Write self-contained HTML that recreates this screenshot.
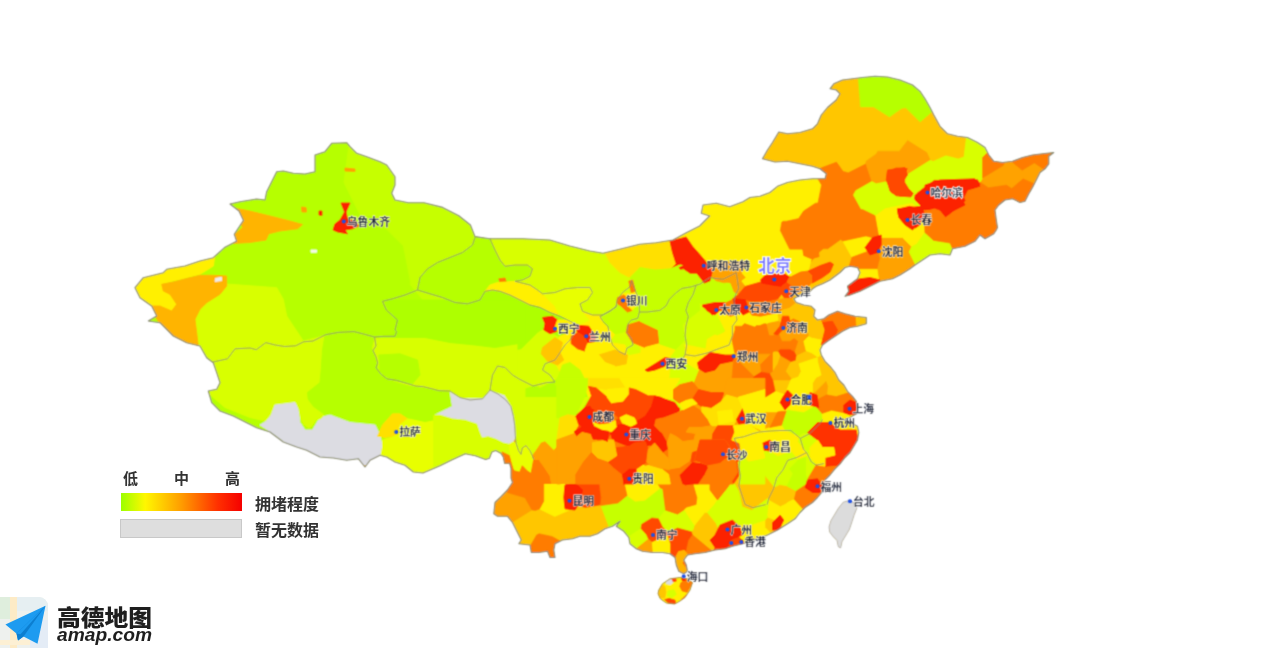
<!DOCTYPE html>
<html lang="zh">
<head>
<meta charset="utf-8">
<title>城市拥堵程度</title>
<style>
html,body{margin:0;padding:0;background:#fff;}
body{width:1269px;height:648px;position:relative;overflow:hidden;font-family:"Liberation Sans","Noto Sans CJK SC",sans-serif;}
svg text{font-family:"Liberation Sans","Noto Sans CJK SC",sans-serif;}
.lg{position:absolute;color:#333;font-weight:bold;font-size:15px;line-height:16px;white-space:nowrap;filter:blur(0.5px);}
.bar{position:absolute;left:121px;width:121px;}
</style>
</head>
<body>
<svg width="1269" height="648" viewBox="0 0 1269 648" style="position:absolute;left:0;top:0">
<defs><clipPath id="cn"><polygon points="230.0,204.0 240.0,201.7 256.7,199.0 265.0,200.0 266.7,191.7 271.7,181.7 276.7,171.7 283.3,171.0 293.3,173.3 305.0,174.0 315.0,171.7 315.0,155.0 325.0,151.7 331.7,143.3 346.7,142.7 350.0,146.7 356.7,153.3 366.7,156.7 380.0,161.7 386.7,165.0 395.0,176.7 395.0,185.0 391.7,193.3 395.0,200.0 408.3,202.7 424.0,202.8 442.6,207.4 458.8,215.7 470.4,225.0 475.0,236.6 489.7,238.7 523.0,238.7 549.7,240.0 569.7,246.0 589.7,251.0 603.0,253.3 619.7,249.3 639.7,244.3 656.3,242.7 673.0,240.0 686.3,232.7 699.7,226.0 709.7,216.0 701.3,213.3 703.0,205.0 716.3,203.3 729.7,206.7 743.0,201.7 750.0,197.5 760.0,196.3 770.0,192.5 777.5,186.3 787.5,182.5 800.0,180.0 812.5,178.8 825.0,178.8 826.3,173.8 820.0,168.8 812.5,166.3 800.0,163.8 787.5,161.3 775.0,162.0 762.5,158.8 767.5,150.0 772.5,142.5 778.8,132.0 787.5,133.8 800.0,132.5 812.5,128.8 817.5,123.8 821.3,115.0 827.5,107.5 836.3,100.0 840.0,93.8 836.3,90.0 830.0,88.8 833.8,83.8 842.5,80.0 852.5,78.8 862.5,77.5 875.0,76.3 887.5,77.0 900.0,80.0 912.5,85.0 920.0,91.3 925.0,98.8 930.0,107.5 933.8,115.0 940.0,126.3 947.5,133.8 957.5,136.3 967.5,137.5 977.5,142.5 985.0,147.5 988.8,155.0 993.8,161.3 1002.5,162.5 1012.5,161.3 1022.5,157.5 1032.5,155.0 1042.5,153.8 1053.8,152.5 1048.8,156.3 1048.8,163.8 1045.0,168.8 1040.0,172.5 1036.3,180.0 1032.5,187.5 1028.8,193.8 1025.0,201.3 1020.0,202.5 1012.5,198.8 1005.0,200.0 998.8,205.0 995.0,210.0 996.3,220.0 997.5,227.5 996.3,230.0 993.8,233.8 985.0,238.8 980.0,235.0 975.0,241.3 965.0,246.3 952.5,248.8 950.0,255.0 940.0,253.8 930.0,255.0 922.5,260.0 915.0,265.0 910.0,268.8 900.0,275.0 892.5,278.8 880.0,281.3 875.0,283.8 867.5,287.5 860.0,291.3 850.0,295.0 845.0,296.3 848.8,291.3 847.5,286.3 852.5,282.5 857.5,278.8 860.0,272.5 857.5,267.5 850.0,266.3 845.0,267.5 840.0,272.5 835.0,276.3 830.0,280.0 822.5,283.8 816.3,286.3 812.5,288.8 808.8,292.5 800.0,295.0 793.8,298.8 796.3,302.5 803.8,305.0 811.3,306.3 815.0,310.0 813.8,316.3 817.5,320.0 823.8,318.8 828.8,315.0 837.5,311.3 845.0,313.8 855.0,316.3 866.3,317.5 866.3,323.8 857.5,326.3 850.0,327.5 842.5,331.3 835.0,336.3 827.5,341.3 822.5,345.0 820.0,350.0 821.3,355.0 825.0,361.3 830.0,366.3 835.0,372.5 838.8,380.0 843.8,385.0 847.5,391.3 852.5,396.3 856.3,401.3 857.5,407.5 856.3,413.8 850.0,417.5 843.8,420.0 850.0,422.5 857.5,426.3 858.8,432.5 857.5,440.0 853.8,446.3 850.0,452.5 845.0,457.5 840.0,463.8 835.0,468.8 830.0,475.0 825.0,480.0 823.8,486.3 822.5,491.3 817.5,497.5 812.5,502.5 805.0,507.5 800.0,512.5 795.0,518.8 787.5,523.8 777.5,530.0 767.5,535.0 755.0,540.0 742.5,543.8 732.5,546.3 725.0,548.8 715.0,550.0 705.0,552.5 695.0,553.8 687.5,555.0 683.8,560.0 686.3,565.0 687.5,571.3 683.8,573.8 678.8,571.3 676.3,565.0 675.0,557.5 670.0,553.8 662.5,552.5 652.5,552.5 642.5,551.3 636.3,548.8 630.0,543.8 628.8,537.5 623.8,531.3 616.3,526.3 620.0,521.3 612.5,526.3 605.0,528.8 597.5,533.8 590.0,536.3 580.0,536.3 572.5,538.8 562.5,540.0 555.0,543.8 553.8,550.0 555.0,557.5 550.0,557.5 547.5,551.3 538.8,552.5 531.3,552.5 530.0,545.0 518.8,543.8 521.3,540.0 517.5,532.5 512.5,522.5 507.5,516.3 497.5,516.3 493.8,513.8 495.0,502.5 501.3,496.3 507.5,490.0 512.5,482.5 511.0,478.0 511.0,468.4 509.6,463.3 504.6,463.3 503.3,457.0 500.8,453.2 495.7,450.6 491.9,451.9 489.4,458.2 485.6,459.5 475.4,455.7 465.3,453.8 452.7,459.5 440.0,465.8 423.0,473.0 413.3,472.0 405.0,465.3 395.0,462.0 386.7,457.0 380.0,455.3 370.0,460.3 365.0,467.0 358.3,458.7 346.7,460.3 333.3,458.0 320.0,457.0 306.7,450.3 296.7,447.0 283.3,442.0 270.0,432.0 256.7,427.7 246.7,422.7 233.3,416.0 220.0,411.0 211.7,402.7 208.3,391.0 216.7,389.3 220.0,382.7 216.7,372.7 213.3,362.7 206.7,357.7 200.0,346.0 186.7,342.7 173.3,336.0 160.0,322.7 148.3,321.0 156.7,316.0 151.7,306.0 140.0,297.7 135.0,287.7 143.3,277.7 163.3,272.7 166.7,269.3 185.0,266.0 200.0,261.0 213.3,257.7 225.0,247.2 236.6,241.2 234.3,234.3 243.5,220.4 239.0,211.0"/><polygon points="658.8,590.0 662.5,583.8 670.0,578.8 680.0,577.5 687.5,578.8 692.5,582.5 690.0,590.0 685.0,597.5 680.0,601.0 674.7,604.0 666.3,603.0 660.3,598.7 658.0,593.7"/><polygon points="843.2,502.2 849.4,500.4 854.3,502.8 856.8,508.4 854.3,514.6 851.9,522.0 849.4,529.4 845.7,535.6 842.0,541.7 840.7,547.9 838.3,546.7 837.0,540.5 833.3,536.8 829.6,531.9 829.0,526.9 830.9,520.7 834.6,514.6 838.3,508.4"/></clipPath>
<linearGradient id="lg" x1="0" x2="1" y1="0" y2="0"><stop offset="0" stop-color="#9cff00"/><stop offset="0.2" stop-color="#fff700"/><stop offset="0.5" stop-color="#ff9c00"/><stop offset="0.8" stop-color="#ff3000"/><stop offset="1" stop-color="#f50000"/></linearGradient>
<filter id="bl" x="-2%" y="-2%" width="104%" height="104%"><feGaussianBlur stdDeviation="0.85"/></filter><filter id="bt" x="-2%" y="-2%" width="104%" height="104%"><feConvolveMatrix order="3" kernelMatrix="1 3 1 3 9 3 1 3 1" divisor="25" edgeMode="duplicate" preserveAlpha="false"/></filter></defs>
<g filter="url(#bt)">
<g clip-path="url(#cn)">
<rect x="100" y="50" width="1000" height="580" fill="#c8ff00"/>
<path d="M331.7 143.3 L325.0 151.7 L315.0 155.0 L315.0 171.7 L305.0 174.0 L293.3 173.3 L287.6 172.0 L283.3 171.0 L276.7 171.7 L271.7 181.7 L266.7 191.7 L265.0 200.0 L256.7 199.0 L240.0 201.7 L230.0 204.0 L239.0 211.0 L243.5 220.4 L242.4 222.0 L234.3 234.3 L236.6 241.2 L225.0 247.2 L213.3 257.7 L200.0 261.0 L185.0 266.0 L166.7 269.3 L163.3 272.7 L143.3 277.7 L135.0 287.7 L140.0 297.7 L151.7 306.0 L156.7 316.0 L148.3 321.0 L160.0 322.7 L173.3 336.0 L186.7 342.7 L200.0 346.0 L206.7 357.7 L213.3 362.7 L216.7 372.7 L220.0 382.7 L216.7 389.3 L208.3 391.0 L211.7 402.7 L220.0 411.0 L233.3 416.0 L245.5 422.1 L246.7 422.7 L256.7 427.7 L270.0 432.0 L283.3 442.0 L296.7 447.0 L306.7 450.3 L320.0 457.0 L333.3 458.0 L346.7 460.3 L358.3 458.7 L359.0 459.6 L407.2 424.9 L436.4 357.5 L440.4 332.5 L441.7 322.5 L410.2 284.7 L410.2 280.6 L403.2 245.8 L373.1 215.7 L360.4 215.7 L343.8 182.5 L348.8 145.2 L346.7 142.7ZM900.0 80.0 L895.8 79.0 L890.5 77.7 L887.5 77.0 L875.0 76.3 L862.5 77.5 L857.7 78.1 L860.0 107.5 L873.6 107.5 L889.5 117.5 L901.7 108.9 L905.7 108.2 L920.1 122.6 L932.3 112.1 L930.0 107.5 L925.0 98.8 L921.9 94.1 L920.0 91.3 L912.5 85.0ZM586.2 391.2 L561.8 376.6 L540.0 387.5 L535.0 385.0 L412.4 425.9 L450.1 435.1 L540.0 442.4 L549.0 445.1 L568.0 444.6 L592.9 434.4 L599.3 430.3Z" fill="#b6ff00" stroke="#b6ff00" stroke-width="0.6" stroke-linejoin="round"/>
<path d="M762.5 158.8 L775.0 162.0 L787.5 161.3 L792.0 162.2 L800.0 163.8 L806.5 165.1 L812.5 166.3 L819.3 168.6 L836.5 162.1 L843.2 171.4 L848.3 172.7 L865.5 164.1 L866.3 160.9 L876.0 154.2 L877.8 151.2 L899.3 151.2 L907.6 140.5 L926.8 152.6 L930.3 160.3 L933.1 161.5 L945.9 155.8 L958.2 158.9 L964.0 157.0 L966.4 137.4 L957.5 136.3 L949.5 134.3 L947.5 133.8 L946.5 132.8 L940.0 126.3 L933.8 115.0 L932.3 112.1 L920.1 122.6 L905.7 108.2 L901.7 108.9 L889.5 117.5 L873.6 107.5 L860.0 107.5 L857.7 78.1 L852.5 78.8 L842.5 80.0 L833.8 83.8 L831.0 87.5 L830.0 88.8 L832.2 89.2 L836.3 90.0 L840.0 93.8 L838.1 97.0 L836.3 100.0 L827.5 107.5 L822.9 113.0 L821.3 115.0 L820.7 116.3 L817.5 123.8 L812.5 128.8 L801.8 132.0 L800.0 132.5 L788.4 133.7 L787.5 133.8 L778.8 132.0 L772.5 142.5 L767.5 150.0ZM773.8 351.2 L772.5 352.9 L772.5 371.4 L772.9 371.2 L777.9 363.8 L780.6 355.6 L778.4 351.2ZM772.8 380.0 L775.2 391.2 L784.8 394.8 L790.8 380.0ZM728.5 461.1 L729.2 475.3 L738.8 491.2 L742.2 506.8 L751.9 510.6 L753.8 508.8 L767.5 498.5 L768.8 500.3 L780.4 506.7 L786.2 503.8 L787.6 502.4 L794.2 499.3 L796.3 491.0 L786.5 485.7 L779.6 484.6 L775.8 486.6 L774.3 487.0 L764.7 474.9 L747.5 470.6ZM590.0 536.3 L590.0 536.3 L597.5 533.8 L605.0 528.8 L609.2 527.4 L601.0 505.6 L600.0 504.9 L585.2 507.6 L573.6 503.7 L569.3 510.1 L554.8 516.5 L539.6 508.9 L535.3 510.5 L531.9 509.9 L512.6 522.0 L512.4 522.3 L512.5 522.5 L514.2 525.9 L517.5 532.5 L521.3 540.0 L518.8 543.8 L530.0 545.0 L530.2 545.9 L536.6 534.9 L539.2 533.7 L551.9 536.4 L552.0 536.4 L560.3 541.1 L562.5 540.0 L572.5 538.8 L573.4 538.5 L580.0 536.3ZM693.4 528.8 L691.5 531.8 L692.2 534.6 L711.7 550.8 L713.8 550.3 L721.2 532.0 L718.6 528.8 L716.0 523.0 L707.4 512.6 L704.8 512.5 L694.2 525.7ZM779.2 521.5 L767.7 517.3 L765.0 520.0 L765.0 527.5 L770.8 533.3 L777.5 530.0 L782.5 526.9 L782.2 526.2ZM835.0 276.3 L837.9 274.1 L840.0 272.5 L845.0 267.5 L849.0 266.5 L851.9 257.2 L842.8 241.1 L840.7 239.5 L827.8 248.8 L823.2 248.8 L818.1 253.1 L796.7 278.7 L790.3 276.4 L769.2 280.4 L777.2 312.5 L778.2 320.6 L782.3 325.4 L793.3 318.8 L799.6 321.6 L798.2 330.2 L808.1 333.5 L808.5 336.5 L811.9 338.1 L827.6 341.3 L833.8 337.1 L830.2 330.2 L821.5 321.5 L821.7 319.2 L817.5 320.0 L813.8 316.3 L815.0 310.0 L811.3 306.3 L807.4 305.6 L803.8 305.0 L796.3 302.5 L794.9 300.4 L793.8 298.8 L795.1 298.0 L800.0 295.0 L808.8 292.5 L810.8 290.5 L812.5 288.8 L815.5 286.8 L816.3 286.3 L822.5 283.8 L830.0 280.0ZM796.2 355.6 L795.3 360.3 L791.0 361.6 L789.4 363.8 L785.6 371.2 L791.5 379.1 L792.3 379.0 L798.3 377.1 L801.2 371.2 L798.8 363.8 L817.4 357.5 L817.4 357.6 L817.8 362.2 L821.2 375.0 L815.9 377.7 L812.5 383.3 L812.5 395.0 L826.0 381.5 L827.7 386.2 L826.7 394.8 L836.2 396.5 L848.8 392.6 L847.5 391.3 L844.5 386.2 L843.8 385.0 L838.8 380.0 L835.2 372.9 L835.0 372.5 L830.0 366.3 L825.0 361.3 L821.3 355.0 L821.3 354.9 L817.6 357.0 L811.9 353.0 L806.1 350.7ZM857.5 326.3 L866.3 323.8 L866.3 317.5 L855.3 316.3 L856.0 326.5Z" fill="#ffc600" stroke="#ffc600" stroke-width="0.6" stroke-linejoin="round"/>
<path d="M410.2 280.6 L410.2 284.7 L441.7 322.5 L462.5 303.7 L515.4 238.7 L489.7 238.7 L475.0 236.6 L470.4 225.0 L458.8 215.7 L445.9 209.1 L442.6 207.4 L424.0 202.8 L417.6 202.8 L408.3 202.7 L396.3 200.3 L395.0 200.0 L391.7 193.3 L395.0 185.0 L395.0 176.7 L386.7 165.0 L380.0 161.7 L366.7 156.7 L356.7 153.3 L350.0 146.7 L348.8 145.2 L343.8 182.5 L360.4 215.7 L373.1 215.7 L403.2 245.8ZM702.7 267.7 L681.4 268.9 L637.2 266.7 L641.7 287.1 L713.2 307.5 L715.3 309.9 L718.1 309.4 L723.8 303.8 L758.1 286.6 L762.2 279.7 L760.7 278.2 L723.8 282.8 L715.8 280.8ZM644.8 500.2 L635.2 501.3 L627.1 495.6 L618.0 503.1 L601.0 505.6 L609.2 527.4 L612.5 526.3 L620.0 521.3 L617.0 525.3 L616.3 526.3 L623.8 531.3 L628.3 536.9 L641.0 528.5 L641.7 524.2 L651.9 517.9 L658.4 518.7 L665.5 510.2 L662.8 488.9 L660.3 487.9ZM822.0 413.5 L815.0 405.5 L803.8 412.0 L787.5 409.6 L786.2 411.2 L781.6 425.2 L784.8 430.5 L786.7 430.8 L796.9 435.9 L799.3 436.3 L802.2 434.0 L803.8 433.6 L822.1 434.6 L824.1 434.9ZM786.5 485.7 L796.3 491.0 L808.1 483.1 L807.6 481.3 L808.0 478.4 L806.2 475.0 L806.2 456.2 L797.2 459.3 L796.8 460.8 L788.8 468.8 L792.5 473.8Z" fill="#c6ff00" stroke="#c6ff00" stroke-width="0.6" stroke-linejoin="round"/>
<path d="M757.1 271.6 L751.1 264.7 L746.2 261.2 L711.6 261.2 L702.7 267.7 L715.8 280.8 L723.8 282.8 L760.7 278.2ZM778.2 320.6 L769.0 322.4 L766.1 323.8 L769.1 335.6 L772.5 335.6 L778.6 333.4 L781.8 341.2 L790.0 341.2 L794.2 338.5 L797.9 341.2 L794.4 351.9 L796.2 355.6 L806.1 350.7 L803.8 341.2 L808.5 336.5 L808.1 333.5 L798.2 330.2 L793.1 333.1 L782.3 325.9 L782.3 325.4ZM735.7 352.4 L734.7 352.8 L733.5 355.5 L709.9 363.0 L709.3 362.8 L698.2 370.7 L692.9 384.2 L688.4 417.5 L704.6 427.0 L718.8 438.1 L721.4 436.6 L739.4 438.6 L769.7 427.6 L777.5 411.9 L738.5 411.9 L740.6 406.9 L741.2 399.9 L731.7 381.0 L733.8 356.3 L754.1 376.6 L761.3 372.0 L760.4 364.6 L771.2 353.8 L757.2 353.8 L756.0 355.8ZM772.9 371.2 L772.5 371.4 L769.6 373.5 L772.8 380.0 L790.8 380.0 L791.5 379.1 L785.6 371.2 L789.4 363.8 L791.0 361.6 L780.6 355.6 L777.9 363.8ZM370.0 460.3 L380.0 455.3 L386.7 457.0 L395.0 462.0 L405.0 465.3 L413.3 472.0 L423.0 473.0 L440.0 465.8 L452.7 459.5 L465.3 453.8 L469.6 454.6 L450.1 435.1 L412.4 425.9 L407.2 424.9 L359.0 459.6 L365.0 467.0ZM497.5 516.3 L507.5 516.3 L512.4 522.3 L512.6 522.0 L531.9 509.9 L524.9 497.7 L507.8 492.8 L506.3 491.3 L501.3 496.3 L495.0 502.5 L493.8 513.8ZM642.5 551.3 L652.5 552.5 L653.1 552.5 L652.2 541.7 L648.2 538.6 L635.9 548.4 L636.3 548.8ZM877.8 151.2 L876.0 154.2 L866.3 160.9 L865.5 164.1 L871.2 181.2 L876.2 183.8 L895.3 179.9 L902.7 181.1 L904.8 176.2 L930.3 160.3 L926.8 152.6 L907.6 140.5 L899.3 151.2ZM1034.3 162.9 L1022.1 170.3 L1011.5 161.4 L1004.7 162.2 L1003.2 165.6 L982.5 178.0 L980.2 182.2 L988.5 187.7 L1006.5 185.1 L1011.7 188.4 L1023.1 178.8 L1034.4 183.7 L1036.3 180.0 L1040.0 172.5 L1044.1 169.4ZM879.2 238.8 L878.9 239.4 L878.9 240.7 L876.7 248.0 L879.7 258.2 L877.0 268.8 L879.0 281.8 L880.0 281.3 L892.5 278.8 L900.0 275.0 L901.4 274.1 L910.0 268.8 L915.0 265.0 L915.5 264.7 L909.1 251.9 L911.7 246.7 L902.5 237.5 L882.5 237.5ZM812.5 395.0 L812.3 396.5 L815.0 400.6 L826.7 394.8 L827.7 386.2 L826.0 381.5Z" fill="#ffa200" stroke="#ffa200" stroke-width="0.6" stroke-linejoin="round"/>
<path d="M709.7 216.0 L702.5 223.2 L699.7 226.0 L686.3 232.7 L673.0 240.0 L656.3 242.7 L639.7 244.3 L625.0 248.0 L619.7 249.3 L603.0 253.3 L589.7 251.0 L582.6 249.2 L567.0 332.1 L558.8 336.2 L551.6 357.6 L561.8 376.6 L586.2 391.2 L599.3 430.3 L610.1 431.0 L617.2 426.8 L654.8 414.2 L667.6 413.4 L670.5 367.3 L657.5 357.5 L657.5 318.5 L642.5 298.2 L641.7 287.1 L637.2 266.7 L681.4 268.9 L702.7 267.7 L711.6 261.2 L746.2 261.2 L751.1 264.7 L757.1 271.6 L760.7 278.2 L762.2 279.7 L758.1 286.6 L756.0 294.2 L751.2 304.9 L746.3 310.2 L730.5 316.5 L718.1 309.4 L715.3 309.9 L714.8 310.9 L724.7 330.6 L724.2 331.7 L717.5 335.0 L714.8 334.1 L706.6 339.1 L705.3 348.1 L683.8 343.8 L684.8 352.0 L682.8 361.4 L698.2 370.7 L709.3 362.8 L709.9 363.0 L733.5 355.5 L734.7 352.8 L734.5 352.4 L731.9 339.4 L735.0 330.0 L735.0 326.2 L741.6 326.2 L744.6 323.6 L754.8 327.0 L756.4 325.6 L759.7 325.6 L763.9 323.8 L766.1 323.8 L769.0 322.4 L778.2 320.6 L777.2 312.5 L769.2 280.4 L790.3 276.4 L791.8 255.7 L790.3 250.6 L780.3 230.6 L781.7 222.2 L783.1 221.2 L786.2 221.2 L798.5 218.5 L803.5 211.0 L815.3 203.2 L817.9 202.9 L821.5 185.0 L817.8 178.8 L812.5 178.8 L800.0 180.0 L796.0 180.8 L787.5 182.5 L784.6 183.6 L777.7 186.2 L777.5 186.3 L770.0 192.5 L760.0 196.3 L758.0 196.5 L752.4 197.2 L750.0 197.5 L743.0 201.7 L737.5 203.8 L729.7 206.7 L716.3 203.3 L703.0 205.0 L701.3 213.3ZM690.8 476.1 L697.0 497.7 L696.1 504.5 L686.6 507.2 L684.2 509.2 L683.8 510.0 L694.2 525.7 L704.8 512.5 L707.4 512.6 L714.6 504.6 L719.2 497.2 L719.3 496.8 L719.9 493.9 L729.2 475.3 L728.5 461.1 L718.7 438.8 L707.8 449.8ZM539.6 508.9 L554.8 516.5 L569.3 510.1 L573.6 503.7 L571.5 497.7 L568.0 444.6 L549.0 445.1 L543.8 466.2 L543.8 501.2ZM624.8 485.7 L627.1 495.6 L635.2 501.3 L644.8 500.2 L660.3 487.9 L647.3 467.0 L623.4 450.5ZM652.2 541.7 L653.1 552.5 L662.5 552.5 L670.0 553.8 L670.6 554.3 L670.6 543.9 L667.8 534.8ZM666.3 603.0 L670.6 603.5 L670.6 578.7 L670.0 578.8 L662.5 583.8 L658.8 590.0 L658.0 593.7 L660.3 598.7ZM766.5 396.5 L740.6 406.9 L738.5 411.9 L777.5 411.9 L781.2 411.2 L786.2 411.2 L787.5 409.6 L803.8 412.0 L815.0 405.5 L815.0 400.6 L812.3 396.5 L812.5 395.0 L812.5 383.3 L815.9 377.7 L821.2 375.0 L817.8 362.2 L817.4 357.6 L817.4 357.5 L798.8 363.8 L801.2 371.2 L798.3 377.1 L792.3 379.0 L791.5 379.1 L790.8 380.0 L784.8 394.8 L775.2 391.2ZM762.8 445.8 L770.0 452.0 L778.0 456.5 L788.1 452.5 L791.8 452.5 L797.2 459.3 L806.2 456.2 L809.0 454.9 L798.4 441.7 L799.3 436.3 L796.9 435.9 L786.7 430.8 L784.8 430.5 L781.6 425.2 L769.7 427.6 L739.4 438.6ZM766.9 515.6 L767.7 517.3 L779.2 521.5 L782.2 526.2 L782.5 526.9 L787.5 523.8 L795.0 518.8 L797.3 515.9 L800.0 512.5 L803.2 509.3 L794.2 499.3 L787.6 502.4 L786.2 503.8 L780.4 506.7 L768.8 500.3ZM730.6 529.5 L743.2 540.9 L744.2 543.3 L755.0 540.0 L760.2 537.9 L767.5 535.0 L770.8 533.3 L765.0 527.5 L765.0 520.0 L753.0 524.0 L752.9 524.4 L734.1 524.4ZM879.2 238.8 L882.5 237.5 L902.5 237.5 L911.7 246.7 L916.7 244.2 L924.9 232.6 L923.9 207.9 L918.1 206.4 L915.0 205.0 L912.1 202.6 L885.2 208.0 L875.0 215.6ZM851.9 257.2 L876.7 248.0 L878.9 240.7 L878.9 239.4 L866.0 236.0 L842.8 241.1ZM875.0 283.8 L879.0 281.8 L877.0 268.8 L858.1 268.8 L860.0 272.5 L857.5 278.8 L852.5 282.5 L847.5 286.3 L848.8 291.3 L847.0 293.7 L848.1 294.5 L848.3 294.6 L849.8 295.1 L850.0 295.0 L860.0 291.3 L867.5 287.5ZM827.5 341.3 L827.6 341.3 L811.9 338.1 L808.5 336.5 L803.8 341.2 L806.1 350.7 L811.9 353.0 L817.6 357.0 L821.3 354.9 L820.0 350.0 L822.5 345.0ZM857.5 426.3 L850.0 422.5 L843.8 420.0 L850.0 417.5 L854.4 414.9 L831.6 410.3 L822.0 413.5 L824.1 434.9 L836.0 447.3 L850.7 451.3 L853.8 446.3 L857.5 440.0 L858.8 432.5Z" fill="#fff000" stroke="#fff000" stroke-width="0.6" stroke-linejoin="round"/>
<path d="M641.7 287.1 L642.5 298.2 L657.5 318.5 L657.5 357.5 L670.5 367.3 L667.6 413.4 L688.4 417.5 L692.9 384.2 L698.2 370.7 L682.8 361.4 L684.8 352.0 L683.8 343.8 L705.3 348.1 L706.6 339.1 L714.8 334.1 L717.5 335.0 L724.2 331.7 L724.7 330.6 L714.8 310.9 L715.3 309.9 L713.2 307.5ZM412.4 425.9 L535.0 385.0 L540.0 387.5 L561.8 376.6 L551.6 357.6 L558.8 336.2 L542.9 328.9 L537.5 332.5 L521.2 348.8 L477.5 357.5 L436.4 357.5 L407.2 424.9ZM677.5 514.2 L665.5 510.2 L658.4 518.7 L662.5 526.9 L668.1 533.0 L677.5 528.0 L691.5 531.8 L693.4 528.8 L694.2 525.7 L683.8 510.0ZM635.9 548.4 L648.2 538.6 L646.6 534.8 L641.0 528.5 L628.3 536.9 L628.8 537.5 L630.0 543.8ZM779.6 484.6 L786.5 485.7 L792.5 473.8 L788.8 468.8 L796.8 460.8 L797.2 459.3 L791.8 452.5 L788.1 452.5 L778.0 456.5 L770.0 452.0 L762.8 445.8 L739.4 438.6 L721.4 436.6 L718.8 438.1 L718.7 438.8 L728.5 461.1 L747.5 470.6 L764.7 474.9 L774.3 487.0 L775.8 486.6ZM719.3 496.8 L719.2 497.2 L714.6 504.6 L707.4 512.6 L716.0 523.0 L718.6 528.8 L721.2 532.0 L730.6 529.5 L734.1 524.4 L752.9 524.4 L753.0 524.0 L765.0 520.0 L767.7 517.3 L766.9 515.6 L768.8 500.3 L767.5 498.5 L753.8 508.8 L751.9 510.6 L742.2 506.8 L738.8 491.2 L729.2 475.3 L719.9 493.9ZM982.5 157.5 L987.5 152.5 L985.0 147.5 L977.5 142.5 L967.5 137.5 L966.4 137.4 L964.0 157.0 L958.2 158.9 L945.9 155.8 L933.1 161.5 L930.3 160.3 L904.8 176.2 L902.7 181.1 L895.3 179.9 L876.2 183.8 L871.2 181.2 L855.4 190.3 L852.8 195.0 L860.7 209.3 L863.1 209.7 L875.0 215.6 L885.2 208.0 L912.1 202.6 L915.0 205.0 L918.1 206.4 L923.9 207.9 L941.3 203.3 L947.6 197.7 L950.6 196.9 L955.0 196.7 L975.1 183.3 L980.2 182.2 L982.5 178.0ZM922.5 260.0 L928.5 256.0 L930.0 255.0 L931.7 254.8 L940.0 253.8 L950.0 255.0 L952.5 248.8 L952.5 248.8 L950.0 243.1 L933.5 240.4 L924.9 232.6 L916.7 244.2 L911.7 246.7 L909.1 251.9 L915.5 264.7ZM822.6 454.0 L836.0 447.3 L824.1 434.9 L822.1 434.6 L803.8 433.6 L802.2 434.0 L799.3 436.3 L798.4 441.7 L809.0 454.9 L806.2 456.2 L806.2 475.0 L808.0 478.4Z" fill="#d8ff00" stroke="#d8ff00" stroke-width="0.6" stroke-linejoin="round"/>
<path d="M758.1 286.6 L723.8 303.8 L718.1 309.4 L730.5 316.5 L746.3 310.2 L751.2 304.9 L756.0 294.2ZM731.9 339.4 L734.5 352.4 L734.7 352.8 L735.7 352.4 L756.0 355.8 L757.2 353.8 L771.2 353.8 L760.4 364.6 L761.3 372.0 L769.6 373.5 L772.5 371.4 L772.5 352.9 L773.8 351.2 L778.4 351.2 L780.1 349.4 L790.0 349.4 L794.4 351.9 L797.9 341.2 L794.2 338.5 L790.0 341.2 L781.8 341.2 L778.6 333.4 L772.5 335.6 L769.1 335.6 L766.1 323.8 L763.9 323.8 L759.7 325.6 L756.4 325.6 L754.8 327.0 L744.6 323.6 L741.6 326.2 L735.0 326.2 L735.0 330.0ZM733.8 356.3 L731.7 381.0 L741.2 399.9 L754.1 376.6ZM688.4 417.5 L667.6 413.4 L654.8 414.2 L617.2 426.8 L610.1 431.0 L599.3 430.3 L592.9 434.4 L600.8 497.7 L600.0 504.9 L601.0 505.6 L618.0 503.1 L627.1 495.6 L624.8 485.7 L623.4 450.5 L647.3 467.0 L660.3 487.9 L662.8 488.9 L665.5 510.2 L677.5 514.2 L683.8 510.0 L684.2 509.2 L686.6 507.2 L696.1 504.5 L697.0 497.7 L690.8 476.1 L707.8 449.8 L718.7 438.8 L718.8 438.1 L704.6 427.0ZM500.8 453.2 L503.3 457.0 L504.6 463.3 L509.6 463.3 L511.0 468.4 L511.0 478.0 L512.5 482.5 L507.5 490.0 L506.3 491.3 L507.8 492.8 L524.9 497.7 L531.9 509.9 L535.3 510.5 L539.6 508.9 L543.8 501.2 L543.8 466.2 L549.0 445.1 L540.0 442.4 L450.1 435.1 L469.6 454.6 L475.4 455.7 L485.6 459.5 L489.4 458.2 L491.9 451.9 L495.7 450.6ZM555.0 557.5 L553.8 550.0 L555.0 543.8 L560.3 541.1 L552.0 536.4 L551.9 536.4 L539.2 533.7 L536.6 534.9 L530.2 545.9 L531.3 552.5 L538.8 552.5 L541.5 552.1 L547.5 551.3 L550.0 557.5ZM711.7 550.8 L692.2 534.6 L688.2 540.4 L683.8 560.0 L687.5 555.0 L695.0 553.8 L705.0 552.5ZM683.8 573.8 L687.5 571.3 L686.3 565.0 L683.8 560.0 L681.1 572.4ZM687.5 578.8 L680.0 577.5 L679.9 577.5 L674.1 603.9 L674.7 604.0 L680.0 601.0 L685.0 597.5 L690.0 590.0 L692.5 582.5ZM825.0 178.8 L817.8 178.8 L821.5 185.0 L817.9 202.9 L815.3 203.2 L803.5 211.0 L798.5 218.5 L786.2 221.2 L783.1 221.2 L781.7 222.2 L780.3 230.6 L790.3 250.6 L791.8 255.7 L790.3 276.4 L796.7 278.7 L818.1 253.1 L823.2 248.8 L827.8 248.8 L840.7 239.5 L842.8 241.1 L866.0 236.0 L878.9 239.4 L879.2 238.8 L875.0 215.6 L863.1 209.7 L860.7 209.3 L852.8 195.0 L855.4 190.3 L871.2 181.2 L865.5 164.1 L848.3 172.7 L843.2 171.4 L836.5 162.1 L819.3 168.6 L820.0 168.8 L826.3 173.8ZM845.0 313.8 L839.4 311.9 L837.5 311.3 L828.8 315.0 L823.8 318.8 L821.7 319.2 L821.5 321.5 L830.2 330.2 L833.8 337.1 L835.0 336.3 L842.5 331.3 L843.7 330.7 L850.0 327.5 L856.0 326.5 L855.3 316.3 L855.0 316.3 L845.8 314.0ZM782.3 325.4 L782.3 325.9 L793.1 333.1 L798.2 330.2 L799.6 321.6 L793.3 318.8ZM822.0 413.5 L831.6 410.3 L854.4 414.9 L856.3 413.8 L857.5 407.5 L856.3 401.3 L852.5 396.3 L848.8 392.6 L836.2 396.5 L826.7 394.8 L815.0 400.6 L815.0 405.5ZM781.6 425.2 L786.2 411.2 L781.2 411.2 L777.5 411.9 L769.7 427.6ZM794.2 499.3 L803.2 509.3 L805.0 507.5 L812.5 502.5 L817.5 497.5 L822.5 491.3 L822.5 491.3 L823.8 486.3 L825.0 480.0 L830.0 475.0 L835.0 468.8 L840.0 463.8 L845.0 457.5 L850.0 452.5 L850.7 451.3 L836.0 447.3 L822.6 454.0 L808.0 478.4 L807.6 481.3 L808.1 483.1 L796.3 491.0ZM833.3 536.8 L837.0 540.5 L838.3 546.7 L840.7 547.9 L842.0 541.7 L845.7 535.6 L849.4 529.4 L851.9 522.0 L854.3 514.6 L856.0 510.5 L856.8 508.4 L854.3 502.8 L849.4 500.4 L843.2 502.2 L842.7 502.9 L838.3 508.4 L834.6 514.6 L830.9 520.7 L829.0 526.9 L829.6 531.9ZM1042.5 153.8 L1033.2 154.9 L1032.5 155.0 L1022.5 157.5 L1012.5 161.3 L1011.5 161.4 L1022.1 170.3 L1034.3 162.9 L1044.1 169.4 L1045.0 168.8 L1048.8 163.8 L1048.8 156.3 L1053.8 152.5ZM987.5 152.5 L982.5 157.5 L982.5 178.0 L1003.2 165.6 L1004.7 162.2 L1002.5 162.5 L993.8 161.3 L988.8 155.0ZM1034.4 183.7 L1023.1 178.8 L1011.7 188.4 L1006.5 185.1 L988.5 187.7 L980.2 182.2 L975.1 183.3 L955.0 196.7 L950.6 196.9 L947.6 197.7 L941.3 203.3 L923.9 207.9 L924.9 232.6 L933.5 240.4 L950.0 243.1 L952.5 248.8 L965.0 246.3 L974.2 241.7 L975.0 241.3 L980.0 235.0 L985.0 238.8 L992.2 234.7 L993.8 233.8 L996.3 230.0 L997.5 227.5 L996.3 220.0 L995.0 210.0 L995.0 210.0 L998.8 205.0 L1005.0 200.0 L1012.5 198.8 L1013.9 199.5 L1020.0 202.5 L1025.0 201.3 L1028.8 193.8 L1032.5 187.5ZM876.7 248.0 L851.9 257.2 L849.0 266.5 L850.0 266.3 L857.5 267.5 L858.1 268.8 L877.0 268.8 L879.7 258.2ZM848.3 294.6 L848.1 294.5 L847.0 293.7 L845.0 296.3 L847.5 295.7 L848.1 295.5 L849.8 295.1Z" fill="#ff7c00" stroke="#ff7c00" stroke-width="0.6" stroke-linejoin="round"/>
<path d="M515.4 238.7 L462.5 303.7 L441.7 322.5 L440.4 332.5 L436.4 357.5 L477.5 357.5 L521.2 348.8 L537.5 332.5 L542.9 328.9 L558.8 336.2 L567.0 332.1 L582.6 249.2 L569.7 246.0 L549.7 240.0 L548.9 240.0 L523.0 238.7Z" fill="#aeff00" stroke="#aeff00" stroke-width="0.6" stroke-linejoin="round"/>
<path d="M795.3 360.3 L796.2 355.6 L794.4 351.9 L790.0 349.4 L780.1 349.4 L778.4 351.2 L780.6 355.6 L791.0 361.6ZM772.8 380.0 L769.6 373.5 L761.3 372.0 L754.1 376.6 L741.2 399.9 L740.6 406.9 L766.5 396.5 L775.2 391.2ZM600.0 504.9 L600.8 497.7 L592.9 434.4 L568.0 444.6 L571.5 497.7 L573.6 503.7 L585.2 507.6ZM658.4 518.7 L651.9 517.9 L641.7 524.2 L641.0 528.5 L646.6 534.8 L648.2 538.6 L652.2 541.7 L667.8 534.8 L670.6 543.9 L670.6 554.3 L675.0 557.5 L676.3 565.0 L678.8 571.3 L681.1 572.4 L683.8 560.0 L683.8 560.0 L683.8 560.0 L688.2 540.4 L692.2 534.6 L691.5 531.8 L677.5 528.0 L668.1 533.0 L662.5 526.9ZM713.8 550.3 L715.0 550.0 L725.0 548.8 L732.5 546.3 L742.5 543.8 L744.2 543.3 L743.2 540.9 L730.6 529.5 L721.2 532.0ZM670.6 603.5 L674.1 603.9 L679.9 577.5 L670.6 578.7Z" fill="#ff4a00" stroke="#ff4a00" stroke-width="0.6" stroke-linejoin="round"/>
<polygon points="226.7,284.0 276.7,287.7 283.3,299.3 286.7,316.0 300.0,336.0 303.3,341.0 323.0,336.0 330.0,338.0 325.0,345.0 283.3,349.0 266.7,346.0 250.0,349.0 233.3,350.0 226.7,361.0 213.3,365.0 205.0,357.0 198.0,345.0 196.0,332.0 195.0,319.0 200.0,309.0 207.0,302.0 220.0,294.0" fill="#d8ff00" stroke="#d8ff00" stroke-width="0.9" stroke-linejoin="round"/>
<polygon points="215.0,255.0 213.3,266.0 200.0,274.3 186.7,277.7 173.3,281.0 161.7,284.3 163.3,291.0 170.0,294.3 176.7,304.3 171.7,311.0 160.0,306.0 150.0,308.0 138.0,298.0 132.0,287.0 142.0,276.0 163.0,271.0 185.0,264.0 200.0,259.0" fill="#fff000" stroke="#fff000" stroke-width="0.9" stroke-linejoin="round"/>
<polygon points="161.7,284.3 173.3,282.0 186.7,278.5 200.0,275.3 213.3,275.3 226.7,276.0 226.7,286.0 220.0,294.3 206.7,302.7 200.0,309.3 195.0,319.3 196.7,332.7 198.3,346.0 186.7,344.0 173.3,338.0 160.0,324.0 155.0,316.0 151.7,306.0 160.0,306.0 171.7,311.0 176.7,304.3 170.0,294.3 163.3,291.0" fill="#ffb400" stroke="#ffb400" stroke-width="0.9" stroke-linejoin="round"/>
<polygon points="215.5,278.3 221.5,277.3 221.5,280.7 215.0,281.5" fill="#ececec" stroke="#ececec" stroke-width="0.9" stroke-linejoin="round"/>
<polygon points="234.0,208.0 247.5,210.5 270.0,216.0 290.0,221.0 302.5,224.5 297.5,228.8 280.0,231.0 268.8,233.8 266.0,240.0 250.0,242.5 233.0,243.5 233.0,236.0 242.5,227.5 238.8,217.5" fill="#ffb400" stroke="#ffb400" stroke-width="0.9" stroke-linejoin="round"/>
<polygon points="341.0,203.0 350.0,203.0 346.0,212.0 347.5,218.8 355.0,221.0 358.8,226.0 352.5,228.8 345.0,230.0 347.5,233.8 337.5,232.0 333.0,230.0 335.0,223.8 340.0,220.0 344.5,212.0" fill="#fc2205" stroke="#fc2205" stroke-width="0.9" stroke-linejoin="round"/>
<polygon points="301.5,207.0 306.0,207.5 306.5,212.0 302.0,212.0" fill="#ffa200" stroke="#ffa200" stroke-width="0.9" stroke-linejoin="round"/>
<polygon points="319.0,211.0 322.0,211.0 322.0,215.5 319.0,215.0" fill="#fc2205" stroke="#fc2205" stroke-width="0.9" stroke-linejoin="round"/>
<polygon points="345.0,168.0 355.0,169.0 355.0,171.5 345.0,171.0" fill="#ffa200" stroke="#ffa200" stroke-width="0.9" stroke-linejoin="round"/>
<polygon points="311.0,250.0 316.5,250.0 316.5,252.3 311.0,252.3" fill="#f4f8ec" stroke="#f4f8ec" stroke-width="0.9" stroke-linejoin="round"/>
<polygon points="200.0,345.0 205.0,357.5 215.0,361.2 227.5,358.8 235.0,348.8 250.0,347.5 267.5,342.5 277.5,346.2 300.0,343.8 317.5,341.2 325.0,335.0 322.5,350.0 321.2,370.0 320.0,382.5 307.5,392.5 308.8,405.0 300.0,402.5 297.5,410.0 295.0,402.5 275.0,405.0 271.2,415.0 266.2,421.2 250.0,417.5 225.0,407.5 207.5,392.5 210.0,382.5 220.0,382.5 215.0,370.0 202.5,360.0 197.5,347.5" fill="#d8ff00" stroke="#d8ff00" stroke-width="0.9" stroke-linejoin="round"/>
<polygon points="325.0,335.0 340.0,332.5 355.0,331.2 372.5,335.0 372.5,347.5 377.5,362.5 380.0,372.5 390.0,380.0 407.5,385.0 425.0,387.5 437.5,390.0 450.0,391.2 452.5,407.5 445.0,410.0 435.0,415.0 437.5,420.0 425.0,422.5 407.5,417.5 400.0,412.5 392.5,413.8 385.0,422.5 375.0,425.0 350.0,422.5 330.0,415.0 322.5,413.8 308.8,405.0 307.5,392.5 320.0,382.5 321.2,370.0 322.5,350.0" fill="#b6ff00" stroke="#b6ff00" stroke-width="0.9" stroke-linejoin="round"/>
<polygon points="275.0,405.0 295.0,402.5 298.8,410.0 300.0,422.5 305.0,430.0 312.5,430.0 320.0,417.5 330.0,415.0 350.0,422.5 375.0,425.0 380.0,435.0 382.5,447.5 380.0,465.0 350.0,465.0 320.0,460.0 295.0,450.0 275.0,435.0 260.0,425.0 266.2,421.2 271.2,415.0" fill="#dcdce2" stroke="#dcdce2" stroke-width="0.9" stroke-linejoin="round"/>
<polygon points="377.5,436.2 382.5,425.0 392.5,413.8 400.0,413.8 407.5,418.8 400.0,425.0 397.5,435.0 385.0,437.5" fill="#ffe000" stroke="#ffe000" stroke-width="0.9" stroke-linejoin="round"/>
<polygon points="382.5,440.0 397.5,435.0 400.0,425.0 407.5,418.8 425.0,422.5 437.5,420.0 450.0,420.0 475.0,422.5 480.0,435.0 490.0,440.0 507.5,445.0 507.5,475.0 380.0,475.0 380.0,460.0 382.5,447.5" fill="#e8ff00" stroke="#e8ff00" stroke-width="0.9" stroke-linejoin="round"/>
<polygon points="435.0,415.0 445.0,410.0 452.5,407.5 450.0,391.2 460.0,397.5 470.0,400.0 482.5,398.8 490.0,390.0 505.0,395.0 510.0,405.0 513.8,420.0 515.0,435.0 510.0,445.0 500.0,440.0 487.5,437.5 480.0,435.0 475.0,422.5 450.0,420.0 437.5,420.0" fill="#dcdce2" stroke="#dcdce2" stroke-width="0.9" stroke-linejoin="round"/>
<polygon points="502.5,452.5 510.0,453.8 511.2,465.0 503.8,465.0" fill="#ff7c00" stroke="#ff7c00" stroke-width="0.9" stroke-linejoin="round"/>
<polygon points="375.0,337.5 400.0,337.5 425.0,337.5 450.0,342.5 475.0,345.0 495.0,347.5 517.0,343.8 517.0,380.0 512.5,375.0 505.0,367.5 497.5,366.2 492.5,375.0 490.0,390.0 482.5,398.8 470.0,400.0 460.0,397.5 450.0,391.2 437.5,390.0 425.0,387.5 407.5,385.0 390.0,380.0 380.0,372.5 377.5,362.5 372.5,347.5" fill="#d8ff00" stroke="#d8ff00" stroke-width="0.9" stroke-linejoin="round"/>
<polygon points="378.8,355.0 400.0,353.8 417.5,360.0 420.0,375.0 412.5,383.8 390.0,380.0 380.0,372.5" fill="#b6ff00" stroke="#b6ff00" stroke-width="0.9" stroke-linejoin="round"/>
<polygon points="490.0,367.5 497.5,366.2 505.0,367.5 517.0,380.0 525.0,382.5 525.0,405.0 510.0,405.0 505.0,395.0 490.0,390.0 492.5,375.0" fill="#d8ff00" stroke="#d8ff00" stroke-width="0.9" stroke-linejoin="round"/>
<polygon points="385.0,300.0 387.5,307.5 392.5,315.0 397.5,325.0 392.5,335.0 375.0,337.5 400.0,337.5 425.0,337.5 450.0,342.5 475.0,345.0 495.0,347.5 517.0,343.8 525.0,342.5 525.0,300.0" fill="#aeff00" stroke="#aeff00" stroke-width="0.9" stroke-linejoin="round"/>
<polygon points="417.5,290.0 420.0,277.5 427.5,268.8 437.5,262.5 450.0,257.5 462.5,252.5 472.5,245.0 475.0,236.2 490.0,237.5 495.0,250.0 500.0,260.0 505.0,266.2 515.0,265.0 527.5,265.0 532.5,268.8 530.0,276.2 522.5,280.0 515.0,281.2 506.2,282.0 497.5,282.5 490.0,285.0 485.0,291.2 480.0,300.0 467.5,303.8 455.0,302.5 442.5,297.5 430.0,293.8" fill="#b6ff00" stroke="#b6ff00" stroke-width="0.9" stroke-linejoin="round"/>
<polygon points="498.8,278.8 505.0,278.0 506.2,281.5 500.0,282.5" fill="#ff7c00" stroke="#ff7c00" stroke-width="0.9" stroke-linejoin="round"/>
<polygon points="490.0,285.0 497.5,282.5 506.2,282.0 515.0,281.2 520.0,282.5 530.0,285.0 537.5,290.0 542.5,293.8 555.0,306.2 560.0,316.2 550.0,312.5 540.0,307.5 530.0,305.0 520.0,300.0 510.0,295.0 500.0,291.2 492.5,290.0 485.0,291.2" fill="#fff000" stroke="#fff000" stroke-width="0.9" stroke-linejoin="round"/>
<polygon points="542.5,293.8 555.0,292.5 565.0,288.8 577.5,287.5 590.0,287.5 592.5,292.5 587.5,300.0 580.0,303.8 582.5,311.2 592.5,315.0 590.0,320.0 577.5,325.0 567.5,320.0 560.0,316.2 555.0,306.2" fill="#e8ff00" stroke="#e8ff00" stroke-width="0.9" stroke-linejoin="round"/>
<polygon points="490.0,237.5 520.0,238.8 550.0,240.0 575.0,246.2 602.5,253.0 605.0,252.5 610.0,262.5 620.0,272.5 630.0,277.5 635.0,287.5 631.2,292.5 622.5,292.5 617.5,297.5 617.0,302.5 617.5,305.0 610.0,311.2 602.5,315.0 592.5,315.0 582.5,311.2 580.0,303.8 587.5,300.0 592.5,292.5 590.0,287.5 577.5,287.5 565.0,288.8 555.0,292.5 542.5,293.8 537.5,290.0 530.0,285.0 520.0,282.5 515.0,281.2 522.5,280.0 530.0,276.2 532.5,268.8 527.5,265.0 515.0,265.0 505.0,266.2 500.0,260.0 495.0,250.0" fill="#d8ff00" stroke="#d8ff00" stroke-width="0.9" stroke-linejoin="round"/>
<polygon points="602.5,253.0 630.0,247.5 655.0,243.0 670.0,241.2 672.5,252.5 676.2,263.8 670.0,268.8 655.0,270.0 640.0,267.5 630.0,277.5 620.0,272.5 610.0,262.5 605.0,252.5" fill="#ffe000" stroke="#ffe000" stroke-width="0.9" stroke-linejoin="round"/>
<polygon points="670.0,241.2 686.2,237.0 692.5,246.2 702.5,257.5 712.5,270.0 710.0,276.2 702.5,277.5 697.0,271.2 687.5,266.2 680.0,265.0 671.2,268.8 676.2,263.8 672.5,252.5" fill="#fc2205" stroke="#fc2205" stroke-width="0.9" stroke-linejoin="round"/>
<polygon points="630.0,277.5 640.0,267.5 655.0,270.0 670.0,268.8 680.0,265.0 687.5,266.2 697.0,271.2 702.5,277.5 702.5,282.5 697.0,290.0 680.0,295.0 667.5,305.0 655.0,312.5 640.0,312.5 637.5,305.0 637.5,295.0 635.0,287.5" fill="#c6ff00" stroke="#c6ff00" stroke-width="0.9" stroke-linejoin="round"/>
<polygon points="617.5,297.5 623.8,295.0 630.0,300.0 627.5,306.2 632.5,311.2 627.5,313.0 620.0,306.2 617.0,302.5" fill="#ff7c00" stroke="#ff7c00" stroke-width="0.9" stroke-linejoin="round"/>
<polygon points="628.8,281.2 632.5,280.0 635.5,291.2 631.2,292.5" fill="#ff7c00" stroke="#ff7c00" stroke-width="0.9" stroke-linejoin="round"/>
<polygon points="600.0,315.0 610.0,311.2 617.5,305.0 620.0,306.2 627.5,313.0 632.5,311.2 637.5,305.0 640.0,312.5 640.0,321.2 627.5,325.0 625.0,332.5 615.0,335.0 610.0,330.0 602.5,322.5" fill="#c6ff00" stroke="#c6ff00" stroke-width="0.9" stroke-linejoin="round"/>
<polygon points="582.5,311.2 592.5,315.0 600.0,315.0 602.5,322.5 610.0,330.0 615.0,335.0 610.0,342.5 595.0,342.5 590.0,330.0 590.0,320.0" fill="#fff000" stroke="#fff000" stroke-width="0.9" stroke-linejoin="round"/>
<polygon points="615.0,335.0 625.0,332.5 626.2,332.5 632.5,342.5 640.0,347.5 640.0,352.5 627.5,355.0 625.0,345.0 610.0,342.5" fill="#d8ff00" stroke="#d8ff00" stroke-width="0.9" stroke-linejoin="round"/>
<polygon points="627.5,325.0 640.0,321.2 657.5,330.0 658.8,343.8 645.0,347.5 632.5,342.5 626.2,332.5" fill="#ff7c00" stroke="#ff7c00" stroke-width="0.9" stroke-linejoin="round"/>
<polygon points="640.0,312.5 655.0,312.5 667.5,305.0 680.0,295.0 697.0,290.0 700.0,310.0 687.5,320.0 682.5,325.0 685.0,340.0 675.0,350.0 660.0,345.0 658.8,330.0 640.0,321.2" fill="#c6ff00" stroke="#c6ff00" stroke-width="0.9" stroke-linejoin="round"/>
<polygon points="530.0,305.0 540.0,307.5 550.0,312.5 560.0,316.2 567.5,320.0 577.5,325.0 557.5,322.5 552.5,316.2 542.5,317.5 535.0,315.0" fill="#aeff00" stroke="#aeff00" stroke-width="0.9" stroke-linejoin="round"/>
<polygon points="542.5,317.5 552.5,316.2 557.5,320.0 555.0,327.5 557.5,331.2 550.0,333.8 543.8,330.0 545.0,323.8" fill="#fc2205" stroke="#fc2205" stroke-width="0.9" stroke-linejoin="round"/>
<polygon points="557.5,320.0 567.5,320.0 577.5,325.0 577.5,332.5 571.2,336.2 565.0,332.5 557.5,331.2 555.0,327.5" fill="#fff000" stroke="#fff000" stroke-width="0.9" stroke-linejoin="round"/>
<polygon points="575.0,325.0 588.8,326.2 596.2,337.5 593.8,342.5 587.5,342.5 583.8,336.2 577.5,332.5" fill="#fc2205" stroke="#fc2205" stroke-width="0.9" stroke-linejoin="round"/>
<polygon points="571.2,336.2 577.5,332.5 583.8,336.2 587.5,343.8 585.0,351.2 577.5,348.8 571.2,343.8" fill="#ff4a00" stroke="#ff4a00" stroke-width="0.9" stroke-linejoin="round"/>
<polygon points="542.5,347.5 555.0,337.5 562.5,342.5 560.0,352.5 563.8,360.0 557.5,365.0 547.5,361.2 541.2,353.8" fill="#ffc600" stroke="#ffc600" stroke-width="0.9" stroke-linejoin="round"/>
<polygon points="595.0,342.5 610.0,342.5 625.0,345.0 627.5,355.0 615.0,350.0 600.0,355.0 592.5,360.0 585.0,351.2 587.5,343.8 593.8,342.5" fill="#fff000" stroke="#fff000" stroke-width="0.9" stroke-linejoin="round"/>
<polygon points="598.8,355.0 615.0,350.0 627.5,355.0 626.2,363.8 615.0,366.2 605.0,362.5" fill="#ffc600" stroke="#ffc600" stroke-width="0.9" stroke-linejoin="round"/>
<polygon points="587.5,352.5 592.5,360.0 598.8,355.0 605.0,362.5 615.0,366.2 617.5,385.0 587.5,385.0 580.0,370.0" fill="#fff000" stroke="#fff000" stroke-width="0.9" stroke-linejoin="round"/>
<polygon points="562.5,365.0 570.0,362.5 580.0,370.0 587.5,385.0 555.0,385.0" fill="#c6ff00" stroke="#c6ff00" stroke-width="0.9" stroke-linejoin="round"/>
<polygon points="645.0,347.5 658.8,343.8 660.0,345.0 675.0,350.0 667.5,360.0 655.0,363.8 645.0,360.0" fill="#fff000" stroke="#fff000" stroke-width="0.9" stroke-linejoin="round"/>
<polygon points="645.0,370.0 655.0,363.8 665.0,357.5 671.2,358.8 665.0,366.2 655.0,370.0 647.5,371.5" fill="#fc2205" stroke="#fc2205" stroke-width="0.9" stroke-linejoin="round"/>
<polygon points="736.2,418.8 742.5,407.5 747.5,415.0 746.2,425.0 740.0,426.2" fill="#fc2205" stroke="#fc2205" stroke-width="0.9" stroke-linejoin="round"/>
<polygon points="782.5,397.5 787.5,390.0 792.5,395.0 790.0,405.0 785.0,410.0 780.0,402.5" fill="#fc2205" stroke="#fc2205" stroke-width="0.9" stroke-linejoin="round"/>
<polygon points="810.0,392.5 817.0,395.0 818.8,407.5 810.0,405.0" fill="#fc2205" stroke="#fc2205" stroke-width="0.9" stroke-linejoin="round"/>
<polygon points="761.2,443.8 770.0,440.0 775.0,445.0 771.2,451.2 762.5,450.0" fill="#fc2205" stroke="#fc2205" stroke-width="0.9" stroke-linejoin="round"/>
<polygon points="697.5,362.5 710.0,352.5 725.0,355.0 735.0,355.0 732.5,361.2 720.0,363.8 715.0,370.0 705.0,372.5 698.8,368.8" fill="#fc2205" stroke="#fc2205" stroke-width="0.9" stroke-linejoin="round"/>
<polygon points="577.5,415.0 585.0,407.5 592.5,412.5 595.0,420.0 587.5,425.0 580.0,422.5" fill="#fc2205" stroke="#fc2205" stroke-width="0.9" stroke-linejoin="round"/>
<polygon points="610.0,430.0 620.0,422.5 630.0,427.5 650.0,420.0 660.0,420.0 655.0,430.0 660.0,440.0 665.0,447.5 660.0,452.5 650.0,445.0 640.0,447.5 625.0,445.0 612.5,440.0" fill="#fc2205" stroke="#fc2205" stroke-width="0.9" stroke-linejoin="round"/>
<polygon points="650.0,405.0 660.0,397.5 675.0,402.5 680.0,410.0 672.5,417.5 660.0,420.0 650.0,417.5" fill="#fc2205" stroke="#fc2205" stroke-width="0.9" stroke-linejoin="round"/>
<polygon points="565.0,485.0 575.0,482.5 582.5,490.0 580.0,502.5 575.0,510.0 565.0,508.8 563.8,497.5" fill="#fc2205" stroke="#fc2205" stroke-width="0.9" stroke-linejoin="round"/>
<polygon points="623.8,467.5 636.2,466.2 635.0,477.5 625.0,481.2" fill="#fc2205" stroke="#fc2205" stroke-width="0.9" stroke-linejoin="round"/>
<polygon points="720.0,525.0 732.5,520.0 740.0,527.5 742.5,535.0 730.0,540.0 727.5,547.5 715.0,547.5 710.0,540.0 715.0,535.0" fill="#fc2205" stroke="#fc2205" stroke-width="0.9" stroke-linejoin="round"/>
<polygon points="772.5,522.5 780.0,515.0 783.8,520.0 778.8,530.0 772.5,530.0" fill="#fc2205" stroke="#fc2205" stroke-width="0.9" stroke-linejoin="round"/>
<polygon points="680.0,472.5 692.5,462.5 707.5,465.0 710.0,472.5 697.5,482.5 685.0,485.0" fill="#fc2205" stroke="#fc2205" stroke-width="0.9" stroke-linejoin="round"/>
<polygon points="843.8,405.0 850.0,400.0 856.2,402.5 858.0,412.5 850.0,415.0 843.8,412.5" fill="#fc2205" stroke="#fc2205" stroke-width="0.9" stroke-linejoin="round"/>
<polygon points="807.5,480.0 817.5,478.8 822.5,486.2 820.0,492.5 812.5,492.5 805.0,487.5" fill="#fc2205" stroke="#fc2205" stroke-width="0.9" stroke-linejoin="round"/>
<polygon points="872.5,237.5 881.2,235.0 881.2,245.0 877.5,252.5 870.0,255.0 865.0,247.5" fill="#fc2205" stroke="#fc2205" stroke-width="0.9" stroke-linejoin="round"/>
<polygon points="850.0,281.2 860.0,278.8 870.0,277.5 880.0,280.0 875.0,283.8 860.0,291.2 843.8,297.5 848.8,290.0 847.5,286.2" fill="#fc2205" stroke="#fc2205" stroke-width="0.9" stroke-linejoin="round"/>
<polygon points="761.2,278.8 767.5,273.8 775.0,275.0 785.0,272.5 790.0,277.5 787.5,283.8 780.0,283.8 775.0,287.5 770.0,283.8 762.5,283.8" fill="#fc2205" stroke="#fc2205" stroke-width="0.9" stroke-linejoin="round"/>
<polygon points="782.5,316.2 788.8,316.2 790.0,322.5 785.0,327.5 777.5,335.0 773.8,333.8 780.0,326.2" fill="#ff4a00" stroke="#ff4a00" stroke-width="0.9" stroke-linejoin="round"/>
<polygon points="822.5,322.5 832.5,321.2 837.5,330.0 835.0,336.2 827.5,341.2 821.2,345.0 825.0,330.0" fill="#ff4a00" stroke="#ff4a00" stroke-width="0.9" stroke-linejoin="round"/>
<polygon points="702.5,305.0 715.0,302.5 725.0,302.5 720.0,310.0 715.0,315.0 707.5,311.2" fill="#fc2205" stroke="#fc2205" stroke-width="0.9" stroke-linejoin="round"/>
<polygon points="925.0,185.0 940.0,180.0 975.0,178.8 980.0,186.2 967.5,190.0 962.5,200.0 965.0,205.0 950.0,212.5 945.0,216.2 940.0,210.0 935.0,206.2 925.0,210.0 915.0,200.0 915.0,195.0 925.0,192.5" fill="#fc2205" stroke="#fc2205" stroke-width="0.9" stroke-linejoin="round"/>
<polygon points="897.5,208.8 922.5,206.2 925.0,217.5 917.5,225.0 912.5,230.0 905.0,225.0 898.8,217.5" fill="#fc2205" stroke="#fc2205" stroke-width="0.9" stroke-linejoin="round"/>
<polygon points="887.5,170.0 905.0,167.5 907.5,175.0 902.5,182.5 910.0,190.0 912.5,195.0 900.0,196.2 891.2,192.5 886.2,180.0" fill="#ff4a00" stroke="#ff4a00" stroke-width="0.9" stroke-linejoin="round"/>
<polygon points="741.9,273.7 751.8,254.4 760.6,250.0 802.6,250.0 803.7,255.5 811.4,258.8 808.1,271.0 800.4,272.1 791.5,276.5 784.9,273.7 773.9,273.7 765.1,275.4 760.6,279.8 760.6,282.0 745.2,286.4 740.8,280.9 745.2,277.6" fill="#fff000" stroke="#fff000" stroke-width="0.9" stroke-linejoin="round"/>
<polygon points="802.6,247.8 818.0,247.8 819.1,256.6 811.4,258.8 803.7,255.5" fill="#ff7c00" stroke="#ff7c00" stroke-width="0.9" stroke-linejoin="round"/>
<polygon points="717.6,276.5 726.4,272.1 741.9,273.7 745.2,277.6 740.8,280.9 745.2,286.4 738.6,294.2 734.2,291.9 730.8,283.1 723.1,279.8" fill="#ffa200" stroke="#ffa200" stroke-width="0.9" stroke-linejoin="round"/>
<polygon points="745.2,286.4 760.6,282.0 767.3,284.2 773.9,285.3 781.6,286.4 781.6,294.2 777.2,299.7 767.3,301.9 756.2,301.9 745.2,299.7 734.2,301.9 733.0,298.6 738.6,294.2" fill="#ff4a00" stroke="#ff4a00" stroke-width="0.9" stroke-linejoin="round"/>
<polygon points="760.6,279.8 765.1,275.4 773.9,273.7 784.9,273.7 789.3,277.6 787.1,282.0 781.6,286.4 773.9,285.3 767.3,284.2 761.7,283.1" fill="#fc2205" stroke="#fc2205" stroke-width="0.9" stroke-linejoin="round"/>
<polygon points="781.6,286.4 787.1,282.0 791.5,285.3 793.8,294.2 791.5,298.6 784.9,298.6 781.6,294.2" fill="#ff4a00" stroke="#ff4a00" stroke-width="0.9" stroke-linejoin="round"/>
<polygon points="791.5,276.5 800.4,272.1 808.1,271.0 812.5,275.4 811.4,283.1 807.0,287.5 800.4,291.9 793.8,294.2 791.5,285.3 787.1,282.0 789.3,277.6" fill="#ff7c00" stroke="#ff7c00" stroke-width="0.9" stroke-linejoin="round"/>
<polygon points="808.1,271.0 820.2,265.5 830.1,262.1 833.5,264.3 830.1,272.1 822.5,277.6 812.5,283.1 812.5,275.4" fill="#ff4a00" stroke="#ff4a00" stroke-width="0.9" stroke-linejoin="round"/>
<polygon points="733.0,298.6 745.2,299.7 747.4,305.2 749.6,311.8 743.0,315.1 738.6,309.6 734.2,305.2" fill="#fc2205" stroke="#fc2205" stroke-width="0.9" stroke-linejoin="round"/>
<polygon points="777.2,299.7 784.9,298.6 791.5,298.6 794.9,303.0 789.3,307.4 781.6,309.6 776.1,305.2" fill="#ffa200" stroke="#ffa200" stroke-width="0.9" stroke-linejoin="round"/>
<polygon points="747.4,305.2 756.2,301.9 767.3,301.9 777.2,299.7 776.1,305.2 781.6,309.6 776.1,312.9 760.6,316.2 751.8,315.1 749.6,311.8" fill="#ff7c00" stroke="#ff7c00" stroke-width="0.9" stroke-linejoin="round"/>
<polygon points="702.1,306.3 712.1,304.1 723.1,303.0 720.9,307.4 716.5,312.9 712.1,315.1 708.8,310.7" fill="#fc2205" stroke="#fc2205" stroke-width="0.9" stroke-linejoin="round"/>
<polygon points="690.0,246.7 696.6,252.2 701.0,258.8 705.5,262.1 712.1,272.1 709.9,280.9 704.3,283.1 701.0,278.7 696.6,273.2 690.0,273.2 683.4,268.8 680.1,269.3 679.0,267.7 683.4,265.5 682.3,259.9 680.1,255.5 681.2,250.0" fill="#fc2205" stroke="#fc2205" stroke-width="0.9" stroke-linejoin="round"/>
<polygon points="510.9,397.5 589.4,397.5 579.2,412.7 574.2,416.5 569.1,419.0 566.6,425.3 565.3,432.9 561.5,440.5 553.9,450.6 551.4,448.1 545.1,441.8 541.3,443.0 536.2,450.6 532.4,455.7 529.9,450.6 526.1,445.6 522.3,448.1 521.0,454.4 518.5,450.6 515.9,443.0 515.3,435.4 514.7,425.3 513.4,416.5 510.9,406.3" fill="#d8ff00" stroke="#d8ff00" stroke-width="0.9" stroke-linejoin="round"/>
<polygon points="440.0,415.2 452.7,419.0 465.3,420.3 476.7,424.1 479.2,431.6 481.8,438.0 488.1,436.7 495.7,439.2 503.3,443.0 509.0,444.3 513.4,441.8 515.3,435.4 514.7,425.3 513.4,416.5 510.9,406.3 505.8,398.7 453.9,398.7 452.7,406.3 447.6,408.9 443.8,412.7" fill="#dcdce2" stroke="#dcdce2" stroke-width="0.9" stroke-linejoin="round"/>
<polygon points="433.7,415.2 440.0,415.2 452.7,419.0 465.3,420.3 476.7,424.1 479.2,431.6 481.8,438.0 488.1,436.7 495.7,439.2 503.3,443.0 509.0,444.3 510.3,455.7 502.7,457.0 495.7,450.6 491.9,451.9 489.4,458.2 485.6,460.1 475.4,456.3 465.3,454.4 452.7,460.1 440.0,466.5 433.7,468.4" fill="#d8ff00" stroke="#d8ff00" stroke-width="0.9" stroke-linejoin="round"/>
<polygon points="502.0,451.9 509.6,455.7 510.9,463.3 503.9,463.9 502.7,457.0" fill="#ff7c00" stroke="#ff7c00" stroke-width="0.9" stroke-linejoin="round"/>
<polygon points="509.0,444.3 513.4,441.8 515.9,443.0 518.5,450.6 521.0,454.4 522.3,448.1 526.1,445.6 529.9,450.6 532.4,455.7 533.7,459.5 531.1,473.4 527.3,470.9 522.3,465.8 519.7,472.2 514.7,470.9 512.2,463.3 510.3,455.7" fill="#e8ff00" stroke="#e8ff00" stroke-width="0.9" stroke-linejoin="round"/>
<polygon points="510.9,468.4 514.7,470.9 519.7,472.2 522.3,465.8 527.3,470.9 531.1,473.4 533.7,459.5 538.7,459.5 545.1,468.4 550.1,475.9 551.4,483.5 509.6,483.5" fill="#ff7c00" stroke="#ff7c00" stroke-width="0.9" stroke-linejoin="round"/>
<polygon points="536.2,450.6 541.3,443.0 545.1,441.8 551.4,448.1 553.9,450.6 560.3,443.0 566.6,439.2 574.2,435.4 579.2,436.7 589.4,431.6 590.6,438.0 597.0,440.5 600.0,444.3 600.0,483.5 551.4,483.5 550.1,475.9 545.1,468.4 538.7,459.5 533.7,459.5 532.4,455.7" fill="#ffa200" stroke="#ffa200" stroke-width="0.9" stroke-linejoin="round"/>
<polygon points="566.6,425.3 569.1,419.0 574.2,416.5 576.7,421.5 575.4,429.1 571.6,435.4 566.6,439.2 560.3,443.0 561.5,440.5 565.3,432.9" fill="#ffe000" stroke="#ffe000" stroke-width="0.9" stroke-linejoin="round"/>
<polygon points="296.0,402.0 307.0,399.0 313.0,407.0 324.0,415.0 321.0,418.5 316.0,420.0 312.0,426.0 309.0,428.0 303.5,424.5 300.5,418.0 299.0,409.0" fill="#d8ff00" stroke="#d8ff00" stroke-width="0.9" stroke-linejoin="round"/>
<polygon points="556.8,378.4 588.4,378.4 585.2,395.8 575.8,414.7 560.0,417.8 556.8,417.8" fill="#c6ff00" stroke="#c6ff00" stroke-width="0.9" stroke-linejoin="round"/>
<polygon points="560.0,417.8 567.9,414.7 575.8,416.2 578.9,425.7 574.2,433.6 560.0,439.9 556.8,439.9" fill="#ffe000" stroke="#ffe000" stroke-width="0.9" stroke-linejoin="round"/>
<polygon points="588.4,378.4 619.9,378.4 626.2,387.9 607.3,389.5 596.2,387.9 588.4,386.3" fill="#ffe000" stroke="#ffe000" stroke-width="0.9" stroke-linejoin="round"/>
<polygon points="619.9,378.4 679.8,378.4 673.5,389.5 673.5,398.9 660.9,397.3 654.6,395.8 648.3,395.8 635.7,389.5 629.3,387.9 626.2,387.9" fill="#fff000" stroke="#fff000" stroke-width="0.9" stroke-linejoin="round"/>
<polygon points="575.8,416.2 585.2,406.8 591.5,395.8 588.4,386.3 596.2,387.9 607.3,397.3 612.0,403.6 616.7,406.8 615.2,414.7 618.3,417.8 619.9,417.8 623.0,424.1 615.2,425.7 610.4,433.6 607.3,439.9 593.1,436.7 589.9,430.4 574.2,433.6 578.9,425.7" fill="#ff4a00" stroke="#ff4a00" stroke-width="0.9" stroke-linejoin="round"/>
<polygon points="575.8,416.2 585.2,406.8 593.9,409.9 595.5,419.4 591.5,423.3 580.5,424.9" fill="#fc2205" stroke="#fc2205" stroke-width="0.9" stroke-linejoin="round"/>
<polygon points="593.1,411.5 615.2,414.7 618.3,417.8 612.0,421.0 594.7,420.2" fill="#ff7c00" stroke="#ff7c00" stroke-width="0.9" stroke-linejoin="round"/>
<polygon points="607.3,389.5 626.2,387.9 629.3,394.2 623.0,402.1 612.0,403.6 607.3,397.3" fill="#fff000" stroke="#fff000" stroke-width="0.9" stroke-linejoin="round"/>
<polygon points="629.3,387.9 635.7,389.5 648.3,395.8 654.6,395.8 651.4,406.8 645.1,416.2 637.2,421.0 634.1,417.8 626.2,414.7 618.3,417.8 615.2,414.7 616.7,406.8 612.0,403.6 623.0,402.1 629.3,394.2" fill="#ff4a00" stroke="#ff4a00" stroke-width="0.9" stroke-linejoin="round"/>
<polygon points="619.9,417.8 626.2,414.7 634.1,417.8 637.2,424.1 630.9,427.3 623.0,424.1" fill="#fff000" stroke="#fff000" stroke-width="0.9" stroke-linejoin="round"/>
<polygon points="654.6,395.8 660.9,397.3 670.3,402.1 679.8,408.4 676.6,413.1 664.0,417.8 656.1,419.4 654.6,425.7 660.9,432.0 667.2,443.0 667.2,449.3 662.4,452.5 657.7,443.0 654.6,436.7 648.3,432.0 645.1,441.5 634.1,443.0 629.3,446.2 623.0,443.0 613.6,439.9 610.4,433.6 615.2,425.7 623.0,424.1 630.9,427.3 637.2,424.1 637.2,421.0 645.1,416.2 651.4,406.8" fill="#fc2205" stroke="#fc2205" stroke-width="0.9" stroke-linejoin="round"/>
<polygon points="656.1,419.4 664.0,417.8 676.6,413.1 682.9,409.9 692.4,405.2 701.8,411.5 708.1,419.4 711.3,425.7 701.8,427.3 689.2,427.3 686.1,432.0 695.5,433.6 694.0,439.9 682.9,441.5 676.6,436.7 670.3,433.6 660.9,432.0 654.6,425.7" fill="#ff7c00" stroke="#ff7c00" stroke-width="0.9" stroke-linejoin="round"/>
<polygon points="673.5,389.5 679.8,384.7 692.4,381.6 698.7,389.5 692.4,398.9 686.1,400.5 679.8,403.6 673.5,398.9" fill="#ff7c00" stroke="#ff7c00" stroke-width="0.9" stroke-linejoin="round"/>
<polygon points="692.4,398.9 698.7,389.5 711.3,392.6 723.9,392.6 720.8,402.1 711.3,408.4 701.8,406.8 697.1,403.6" fill="#ff4a00" stroke="#ff4a00" stroke-width="0.9" stroke-linejoin="round"/>
<polygon points="679.8,403.6 686.1,400.5 692.4,398.9 697.1,403.6 692.4,405.2 682.9,409.9" fill="#fff000" stroke="#fff000" stroke-width="0.9" stroke-linejoin="round"/>
<polygon points="701.8,406.8 711.3,408.4 720.8,402.1 727.1,394.2 738.1,397.3 742.8,408.4 736.5,419.4 733.4,425.7 717.6,425.7 711.3,425.7 708.1,419.4 701.8,411.5" fill="#ffe000" stroke="#ffe000" stroke-width="0.9" stroke-linejoin="round"/>
<polygon points="717.6,411.5 731.8,409.9 733.4,421.0 719.2,424.1" fill="#fff000" stroke="#fff000" stroke-width="0.9" stroke-linejoin="round"/>
<polygon points="736.5,419.4 742.8,408.4 746.0,416.2 747.5,424.1 741.2,427.3" fill="#fc2205" stroke="#fc2205" stroke-width="0.9" stroke-linejoin="round"/>
<polygon points="670.3,433.6 676.6,436.7 682.9,441.5 694.0,439.9 695.5,433.6 686.1,432.0 689.2,427.3 701.8,427.3 711.3,425.7 712.9,433.6 711.3,446.2 701.8,449.3 692.4,452.5 689.2,462.0 679.8,468.3 670.3,469.8 668.7,458.8 668.7,449.3 667.2,443.0" fill="#ffa200" stroke="#ffa200" stroke-width="0.9" stroke-linejoin="round"/>
<polygon points="712.9,433.6 717.6,425.7 733.4,425.7 734.9,432.0 731.8,439.9 739.7,443.0 741.2,452.5 738.1,462.0 739.7,474.6 733.4,484.0 725.5,474.6 723.9,462.0 717.6,458.8 708.1,457.2 690.8,462.0 692.4,452.5 701.8,449.3 711.3,446.2" fill="#ff4a00" stroke="#ff4a00" stroke-width="0.9" stroke-linejoin="round"/>
<polygon points="679.8,474.6 689.2,465.1 701.8,463.5 708.1,468.3 705.0,474.6 698.7,484.0 682.9,484.0" fill="#fc2205" stroke="#fc2205" stroke-width="0.9" stroke-linejoin="round"/>
<polygon points="708.1,457.2 717.6,458.8 723.9,462.0 725.5,474.6 733.4,484.0 698.7,484.0 705.0,474.6 708.1,468.3" fill="#ff7c00" stroke="#ff7c00" stroke-width="0.9" stroke-linejoin="round"/>
<polygon points="621.5,474.6 629.3,468.3 635.7,466.7 637.2,474.6 634.1,484.0 623.0,484.0" fill="#fc2205" stroke="#fc2205" stroke-width="0.9" stroke-linejoin="round"/>
<polygon points="637.2,468.3 649.8,465.1 660.9,468.3 668.7,474.6 670.3,484.0 634.1,484.0 637.2,474.6" fill="#ffe000" stroke="#ffe000" stroke-width="0.9" stroke-linejoin="round"/>
<polygon points="615.2,447.8 629.3,446.2 634.1,443.0 645.1,441.5 648.3,449.3 646.7,462.0 637.2,468.3 629.3,468.3 621.5,474.6 613.6,468.3 607.3,462.0 616.7,455.7" fill="#ff4a00" stroke="#ff4a00" stroke-width="0.9" stroke-linejoin="round"/>
<polygon points="648.3,449.3 654.6,443.0 662.4,452.5 668.7,458.8 670.3,469.8 660.9,468.3 649.8,465.1 646.7,462.0" fill="#ffa200" stroke="#ffa200" stroke-width="0.9" stroke-linejoin="round"/>
<polygon points="591.5,443.0 607.3,439.9 613.6,439.9 615.2,447.8 616.7,455.7 607.3,462.0 597.8,458.8 591.5,452.5" fill="#ffc600" stroke="#ffc600" stroke-width="0.9" stroke-linejoin="round"/>
<polygon points="556.8,439.9 574.2,433.6 589.9,430.4 593.1,436.7 591.5,443.0 591.5,452.5 583.6,462.0 575.8,474.6 560.0,484.0 556.8,484.0" fill="#ffa200" stroke="#ffa200" stroke-width="0.9" stroke-linejoin="round"/>
<polygon points="583.6,462.0 591.5,452.5 597.8,458.8 607.3,462.0 613.6,468.3 621.5,474.6 623.0,484.0 575.8,484.0 575.8,474.6" fill="#ff7c00" stroke="#ff7c00" stroke-width="0.9" stroke-linejoin="round"/>
<polygon points="733.4,425.7 747.5,424.1 760.0,432.0 764.9,458.8 749.1,462.0 741.2,452.5 739.7,443.0 731.8,439.9 734.9,432.0" fill="#fff000" stroke="#fff000" stroke-width="0.9" stroke-linejoin="round"/>
<polygon points="738.1,462.0 749.1,462.0 764.9,458.8 764.9,484.0 739.7,484.0 739.7,474.6" fill="#d8ff00" stroke="#d8ff00" stroke-width="0.9" stroke-linejoin="round"/>
<polygon points="723.9,392.6 727.1,378.4 764.9,378.4 764.9,389.5 738.1,397.3 727.1,394.2" fill="#ffa200" stroke="#ffa200" stroke-width="0.9" stroke-linejoin="round"/>
<polygon points="738.1,397.3 764.9,389.5 764.9,432.0 747.5,424.1 746.0,416.2 742.8,408.4" fill="#fff000" stroke="#fff000" stroke-width="0.9" stroke-linejoin="round"/>
<polygon points="670.3,469.8 679.8,468.3 689.2,462.0 690.8,462.0 689.2,465.1 679.8,474.6 670.3,477.7" fill="#ff7c00" stroke="#ff7c00" stroke-width="0.9" stroke-linejoin="round"/>
<polygon points="807.5,432.5 817.5,422.5 830.0,422.5 840.0,430.0 856.2,430.0 858.0,440.0 850.0,452.5 840.0,465.0 825.0,466.2 825.0,457.5 835.0,455.0 833.8,447.5 822.5,447.5 817.5,440.0" fill="#ff3206" stroke="#ff3206" stroke-width="0.9" stroke-linejoin="round"/>
<polygon points="810.0,447.5 817.5,440.0 822.5,447.5 833.8,447.5 835.0,455.0 825.0,457.5 825.0,466.2 817.5,465.0 810.0,457.5" fill="#fff000" stroke="#fff000" stroke-width="0.9" stroke-linejoin="round"/>
<polygon points="923.2,188.4 934.3,180.4 949.1,180.4 966.4,181.0 977.5,179.8 980.0,184.7 973.8,187.8 965.2,189.6 962.7,195.8 965.2,200.7 956.5,208.1 949.1,214.3 945.4,216.8 941.7,210.6 934.3,208.1 929.4,209.4 922.0,209.4 920.7,202.0 914.6,198.3 917.0,193.3" fill="#fc2205" stroke="#fc2205" stroke-width="0.9" stroke-linejoin="round"/>
<polygon points="897.3,209.4 909.6,206.3 922.0,209.4 923.2,214.3 918.3,218.0 920.7,224.2 915.8,227.9 909.6,225.4 904.7,219.3 898.5,215.6" fill="#fc2205" stroke="#fc2205" stroke-width="0.9" stroke-linejoin="round"/>
<polygon points="887.4,172.3 896.0,168.0 907.2,168.6 904.7,174.8 904.7,182.2 908.4,188.4 913.3,193.3 910.9,197.0 896.0,195.8 889.9,190.9 887.4,181.0" fill="#ff4a00" stroke="#ff4a00" stroke-width="0.9" stroke-linejoin="round"/>
<polygon points="700.0,440.0 725.0,440.0 735.0,455.0 737.5,472.5 727.5,487.5 717.5,500.0 710.0,490.0 710.0,472.5 707.5,465.0 695.0,460.0" fill="#ff7c00" stroke="#ff7c00" stroke-width="0.9" stroke-linejoin="round"/>
<polygon points="700.0,440.0 725.0,440.0 732.5,452.5 720.0,462.5 707.5,465.0 695.0,460.0" fill="#ff4a00" stroke="#ff4a00" stroke-width="0.9" stroke-linejoin="round"/>
<polygon points="657.2,589.8 660.7,583.4 667.0,577.6 674.0,576.5 680.9,576.1 688.4,577.3 693.7,581.7 691.1,586.9 687.3,592.7 681.5,598.4 675.4,604.8 669.1,604.0 663.0,601.0 658.1,596.1" fill="#fff000" stroke="#fff000" stroke-width="0.9" stroke-linejoin="round"/>
<polygon points="657.8,589.8 660.7,584.6 664.7,586.3 665.9,592.1 664.7,597.9 660.3,597.9 658.4,594.4" fill="#ffc600" stroke="#ffc600" stroke-width="0.9" stroke-linejoin="round"/>
<polygon points="680.9,582.8 685.6,579.4 693.1,581.7 690.4,586.5 686.9,592.3 682.1,590.9 679.8,586.3" fill="#ff7c00" stroke="#ff7c00" stroke-width="0.9" stroke-linejoin="round"/>
<polygon points="666.8,579.1 671.9,578.4 673.8,581.7 670.5,584.6 666.1,583.8" fill="#dcdce2" stroke="#dcdce2" stroke-width="0.9" stroke-linejoin="round"/>
<polygon points="671.9,578.8 675.7,578.2 676.3,581.1 673.1,581.7" fill="#ff4a00" stroke="#ff4a00" stroke-width="0.9" stroke-linejoin="round"/>
<polygon points="681.5,577.6 685.6,578.0 685.3,580.5 682.1,580.5" fill="#fc2205" stroke="#fc2205" stroke-width="0.9" stroke-linejoin="round"/>
<polygon points="664.7,599.6 669.4,598.4 675.1,600.2 675.4,604.2 669.4,603.7" fill="#ff4a00" stroke="#ff4a00" stroke-width="0.9" stroke-linejoin="round"/>
<polygon points="668.2,590.9 674.0,589.8 676.3,594.4 671.7,597.9 667.0,595.6" fill="#d8ff00" stroke="#d8ff00" stroke-width="0.9" stroke-linejoin="round"/>
<polygon points="674.0,560.8 678.6,551.6 684.4,550.4 687.9,555.0 684.4,559.7 682.1,563.1 685.6,567.8 686.9,571.8 680.9,573.0 676.3,570.3 674.6,565.5" fill="#ffb400" stroke="#ffb400" stroke-width="0.9" stroke-linejoin="round"/>
<polygon points="576.6,414.9 584.3,408.2 589.8,406.0 593.1,411.6 592.0,420.4 593.1,422.6 595.3,427.0 590.9,428.1 582.1,427.0 578.8,423.7" fill="#fc2205" stroke="#fc2205" stroke-width="0.9" stroke-linejoin="round"/>
<polygon points="593.1,422.6 599.7,424.8 608.6,423.7 615.2,420.4 616.3,427.0 611.9,431.4 601.9,430.3 595.3,427.0" fill="#fff000" stroke="#fff000" stroke-width="0.9" stroke-linejoin="round"/>
<polygon points="574.3,431.4 582.1,427.0 590.9,428.1 595.3,427.0 601.9,430.3 608.6,431.4 607.5,441.4 601.9,439.2 593.1,439.2 590.9,433.6 582.1,431.4 576.6,435.8" fill="#fc2205" stroke="#fc2205" stroke-width="0.9" stroke-linejoin="round"/>
</g>
<polygon points="843.2,502.2 849.4,500.4 854.3,502.8 856.8,508.4 854.3,514.6 851.9,522.0 849.4,529.4 845.7,535.6 842.0,541.7 840.7,547.9 838.3,546.7 837.0,540.5 833.3,536.8 829.6,531.9 829.0,526.9 830.9,520.7 834.6,514.6 838.3,508.4" fill="#dcdcdc" stroke="#b4b4b4" stroke-width="0.8"/>
<polyline points="213.0,362.0 227.5,358.8 235.0,348.8 250.0,348.0 256.3,349.7 265.8,342.6 275.2,345.0 284.7,346.5 295.7,345.8 303.6,341.8 313.0,341.0 319.3,337.9 325.7,334.7 338.3,332.4 354.0,331.6 363.5,334.0 374.5,337.0" fill="none" stroke="#8f8f6a" stroke-width="1" stroke-linejoin="round" opacity="0.85"/>
<polyline points="475.0,237.5 472.5,245.0 462.5,252.5 450.0,257.5 437.5,262.5 427.5,268.8 420.0,277.5 417.5,290.0 405.0,295.0 392.5,298.8 382.5,301.3 386.3,310.0 397.5,320.0 395.0,330.0 396.6,331.6 395.0,336.3 384.0,336.3 374.5,337.0" fill="none" stroke="#8f8f6a" stroke-width="1" stroke-linejoin="round" opacity="0.85"/>
<polyline points="417.5,290.0 430.0,293.8 442.5,297.5 455.0,302.5 467.5,303.8 480.0,300.0 485.0,291.3 492.5,290.0 500.0,291.3 510.0,295.0 520.0,300.0 530.0,305.0 540.0,307.5 550.0,312.5 560.0,316.3 567.5,320.0 577.5,325.0 575.0,332.5 570.0,340.0 565.0,345.0 560.0,352.5 555.0,360.0 545.0,363.8 542.5,370.0 550.0,375.0 555.0,382.0" fill="none" stroke="#8f8f6a" stroke-width="1" stroke-linejoin="round" opacity="0.85"/>
<polyline points="490.0,238.8 495.0,250.0 500.0,260.0 505.0,266.3 515.0,265.0 527.5,265.0 532.5,268.8 530.0,276.3 522.5,280.0 515.0,281.3 520.0,282.5 530.0,285.0 537.5,290.0 542.5,293.8 555.0,292.5 565.0,288.8 577.5,287.5 590.0,287.5 592.5,292.5 587.5,300.0 580.0,303.8 582.5,311.3 592.5,315.0 602.5,315.0 610.0,311.3 617.5,305.0" fill="none" stroke="#8f8f6a" stroke-width="1" stroke-linejoin="round" opacity="0.85"/>
<polyline points="374.5,337.0 376.0,345.8 373.0,350.5 376.0,356.8 377.7,363.0 376.0,367.8 380.8,374.0 387.0,378.9 396.6,380.4 407.6,383.6 415.5,386.0 423.4,386.7 432.8,389.0 439.0,390.7 450.0,391.0 460.0,397.5 470.0,400.0 482.5,398.8 490.0,390.0 492.5,375.0 497.5,366.0 505.0,367.5 512.5,375.0 519.7,379.3 533.0,386.0 546.3,382.7 555.0,382.0" fill="none" stroke="#8f8f6a" stroke-width="1" stroke-linejoin="round" opacity="0.85"/>
<polyline points="490.0,390.0 498.0,394.0 505.8,400.0 510.9,406.3 513.4,416.5 514.7,425.3 515.3,435.4 516.0,443.0 518.5,450.6 521.0,454.4 522.3,448.0 526.0,445.6 529.9,450.6 532.4,455.7 533.7,459.5" fill="none" stroke="#8f8f6a" stroke-width="1" stroke-linejoin="round" opacity="0.85"/>
<polyline points="639.4,312.0 647.3,312.0 659.9,310.4 666.2,305.7 669.3,299.4 675.6,293.1 682.0,288.4 691.4,286.8 696.1,285.2" fill="none" stroke="#8f8f6a" stroke-width="1" stroke-linejoin="round" opacity="0.85"/>
<polyline points="696.1,285.2 693.0,294.7 688.3,302.6 685.9,310.4 688.3,316.7 685.9,326.2 685.1,335.6 686.7,345.0 685.1,354.6 682.0,360.9" fill="none" stroke="#8f8f6a" stroke-width="1" stroke-linejoin="round" opacity="0.85"/>
<polyline points="685.1,354.6 694.6,356.0 707.2,353.0 719.8,348.3 729.2,345.0 732.4,335.6 732.4,326.2 737.0,320.0 735.5,312.0 734.0,301.0 735.5,294.7 738.7,288.4 736.3,272.7 723.0,279.3 709.7,277.7 699.7,284.3 696.1,285.2" fill="none" stroke="#8f8f6a" stroke-width="1" stroke-linejoin="round" opacity="0.85"/>
<polyline points="600.0,316.7 607.9,312.0 615.8,307.3 617.3,299.4 623.6,291.5 630.0,286.8 631.5,280.5 633.9,286.8 636.2,293.0 639.4,301.0 639.4,312.0 637.8,318.3 631.5,320.0 628.4,323.0 626.8,332.5 631.5,338.8 633.0,345.0 626.8,348.3 625.2,354.6 618.9,351.4 612.6,345.0 609.5,335.6 607.9,326.2 603.0,321.5 600.0,316.7" fill="none" stroke="#8f8f6a" stroke-width="1" stroke-linejoin="round" opacity="0.85"/>
<polyline points="734.1,438.4 743.6,436.8 753.0,433.6 759.3,432.0 770.0,431.0 779.8,430.5 790.9,430.5 800.3,438.4 803.5,449.4 806.6,452.6 797.2,457.3 787.7,460.4 783.0,469.9 776.7,477.8 773.5,488.8 768.8,498.3 767.2,504.6" fill="none" stroke="#8f8f6a" stroke-width="1" stroke-linejoin="round" opacity="0.85"/>
<polyline points="734.1,438.4 738.9,447.8 740.4,457.3 738.9,466.7 740.4,476.2 738.9,485.7 742.0,495.1 745.2,504.6 753.0,507.7 765.7,504.6" fill="none" stroke="#8f8f6a" stroke-width="1" stroke-linejoin="round" opacity="0.85"/>
<polyline points="806.6,452.6 811.4,462.0 816.1,465.2 824.0,463.6" fill="none" stroke="#8f8f6a" stroke-width="1" stroke-linejoin="round" opacity="0.85"/>
<polyline points="800.3,438.4 809.8,433.6 820.8,422.6 822.4,419.5" fill="none" stroke="#8f8f6a" stroke-width="1" stroke-linejoin="round" opacity="0.85"/>
<polygon points="230.0,204.0 240.0,201.7 256.7,199.0 265.0,200.0 266.7,191.7 271.7,181.7 276.7,171.7 283.3,171.0 293.3,173.3 305.0,174.0 315.0,171.7 315.0,155.0 325.0,151.7 331.7,143.3 346.7,142.7 350.0,146.7 356.7,153.3 366.7,156.7 380.0,161.7 386.7,165.0 395.0,176.7 395.0,185.0 391.7,193.3 395.0,200.0 408.3,202.7 424.0,202.8 442.6,207.4 458.8,215.7 470.4,225.0 475.0,236.6 489.7,238.7 523.0,238.7 549.7,240.0 569.7,246.0 589.7,251.0 603.0,253.3 619.7,249.3 639.7,244.3 656.3,242.7 673.0,240.0 686.3,232.7 699.7,226.0 709.7,216.0 701.3,213.3 703.0,205.0 716.3,203.3 729.7,206.7 743.0,201.7 750.0,197.5 760.0,196.3 770.0,192.5 777.5,186.3 787.5,182.5 800.0,180.0 812.5,178.8 825.0,178.8 826.3,173.8 820.0,168.8 812.5,166.3 800.0,163.8 787.5,161.3 775.0,162.0 762.5,158.8 767.5,150.0 772.5,142.5 778.8,132.0 787.5,133.8 800.0,132.5 812.5,128.8 817.5,123.8 821.3,115.0 827.5,107.5 836.3,100.0 840.0,93.8 836.3,90.0 830.0,88.8 833.8,83.8 842.5,80.0 852.5,78.8 862.5,77.5 875.0,76.3 887.5,77.0 900.0,80.0 912.5,85.0 920.0,91.3 925.0,98.8 930.0,107.5 933.8,115.0 940.0,126.3 947.5,133.8 957.5,136.3 967.5,137.5 977.5,142.5 985.0,147.5 988.8,155.0 993.8,161.3 1002.5,162.5 1012.5,161.3 1022.5,157.5 1032.5,155.0 1042.5,153.8 1053.8,152.5 1048.8,156.3 1048.8,163.8 1045.0,168.8 1040.0,172.5 1036.3,180.0 1032.5,187.5 1028.8,193.8 1025.0,201.3 1020.0,202.5 1012.5,198.8 1005.0,200.0 998.8,205.0 995.0,210.0 996.3,220.0 997.5,227.5 996.3,230.0 993.8,233.8 985.0,238.8 980.0,235.0 975.0,241.3 965.0,246.3 952.5,248.8 950.0,255.0 940.0,253.8 930.0,255.0 922.5,260.0 915.0,265.0 910.0,268.8 900.0,275.0 892.5,278.8 880.0,281.3 875.0,283.8 867.5,287.5 860.0,291.3 850.0,295.0 845.0,296.3 848.8,291.3 847.5,286.3 852.5,282.5 857.5,278.8 860.0,272.5 857.5,267.5 850.0,266.3 845.0,267.5 840.0,272.5 835.0,276.3 830.0,280.0 822.5,283.8 816.3,286.3 812.5,288.8 808.8,292.5 800.0,295.0 793.8,298.8 796.3,302.5 803.8,305.0 811.3,306.3 815.0,310.0 813.8,316.3 817.5,320.0 823.8,318.8 828.8,315.0 837.5,311.3 845.0,313.8 855.0,316.3 866.3,317.5 866.3,323.8 857.5,326.3 850.0,327.5 842.5,331.3 835.0,336.3 827.5,341.3 822.5,345.0 820.0,350.0 821.3,355.0 825.0,361.3 830.0,366.3 835.0,372.5 838.8,380.0 843.8,385.0 847.5,391.3 852.5,396.3 856.3,401.3 857.5,407.5 856.3,413.8 850.0,417.5 843.8,420.0 850.0,422.5 857.5,426.3 858.8,432.5 857.5,440.0 853.8,446.3 850.0,452.5 845.0,457.5 840.0,463.8 835.0,468.8 830.0,475.0 825.0,480.0 823.8,486.3 822.5,491.3 817.5,497.5 812.5,502.5 805.0,507.5 800.0,512.5 795.0,518.8 787.5,523.8 777.5,530.0 767.5,535.0 755.0,540.0 742.5,543.8 732.5,546.3 725.0,548.8 715.0,550.0 705.0,552.5 695.0,553.8 687.5,555.0 683.8,560.0 686.3,565.0 687.5,571.3 683.8,573.8 678.8,571.3 676.3,565.0 675.0,557.5 670.0,553.8 662.5,552.5 652.5,552.5 642.5,551.3 636.3,548.8 630.0,543.8 628.8,537.5 623.8,531.3 616.3,526.3 620.0,521.3 612.5,526.3 605.0,528.8 597.5,533.8 590.0,536.3 580.0,536.3 572.5,538.8 562.5,540.0 555.0,543.8 553.8,550.0 555.0,557.5 550.0,557.5 547.5,551.3 538.8,552.5 531.3,552.5 530.0,545.0 518.8,543.8 521.3,540.0 517.5,532.5 512.5,522.5 507.5,516.3 497.5,516.3 493.8,513.8 495.0,502.5 501.3,496.3 507.5,490.0 512.5,482.5 511.0,478.0 511.0,468.4 509.6,463.3 504.6,463.3 503.3,457.0 500.8,453.2 495.7,450.6 491.9,451.9 489.4,458.2 485.6,459.5 475.4,455.7 465.3,453.8 452.7,459.5 440.0,465.8 423.0,473.0 413.3,472.0 405.0,465.3 395.0,462.0 386.7,457.0 380.0,455.3 370.0,460.3 365.0,467.0 358.3,458.7 346.7,460.3 333.3,458.0 320.0,457.0 306.7,450.3 296.7,447.0 283.3,442.0 270.0,432.0 256.7,427.7 246.7,422.7 233.3,416.0 220.0,411.0 211.7,402.7 208.3,391.0 216.7,389.3 220.0,382.7 216.7,372.7 213.3,362.7 206.7,357.7 200.0,346.0 186.7,342.7 173.3,336.0 160.0,322.7 148.3,321.0 156.7,316.0 151.7,306.0 140.0,297.7 135.0,287.7 143.3,277.7 163.3,272.7 166.7,269.3 185.0,266.0 200.0,261.0 213.3,257.7 225.0,247.2 236.6,241.2 234.3,234.3 243.5,220.4 239.0,211.0" fill="none" stroke="#8c8c78" stroke-width="1.1" stroke-linejoin="round"/>
<polygon points="658.8,590.0 662.5,583.8 670.0,578.8 680.0,577.5 687.5,578.8 692.5,582.5 690.0,590.0 685.0,597.5 680.0,601.0 674.7,604.0 666.3,603.0 660.3,598.7 658.0,593.7" fill="none" stroke="#a08c50" stroke-width="0.9"/>
</g>
<g filter="url(#bt)">
<circle cx="343.8" cy="221.5" r="2.05" fill="#1e50e6"/>
<text x="346.8" y="225.7" font-size="10.8" fill="#141e38" font-weight="bold" stroke="#fff" stroke-opacity="0.75" stroke-width="1.3" paint-order="stroke" stroke-linejoin="round">乌鲁木齐</text>
<circle cx="396.3" cy="432" r="2.05" fill="#1e50e6"/>
<text x="399.3" y="436.2" font-size="10.8" fill="#141e38" font-weight="bold" stroke="#fff" stroke-opacity="0.75" stroke-width="1.3" paint-order="stroke" stroke-linejoin="round">拉萨</text>
<circle cx="555" cy="328.8" r="2.05" fill="#1e50e6"/>
<text x="558" y="333.0" font-size="10.8" fill="#141e38" font-weight="bold" stroke="#fff" stroke-opacity="0.75" stroke-width="1.3" paint-order="stroke" stroke-linejoin="round">西宁</text>
<circle cx="586.3" cy="336.3" r="2.05" fill="#1e50e6"/>
<text x="589.3" y="340.5" font-size="10.8" fill="#141e38" font-weight="bold" stroke="#fff" stroke-opacity="0.75" stroke-width="1.3" paint-order="stroke" stroke-linejoin="round">兰州</text>
<circle cx="623" cy="300.5" r="2.05" fill="#1e50e6"/>
<text x="626" y="304.7" font-size="10.8" fill="#141e38" font-weight="bold" stroke="#fff" stroke-opacity="0.75" stroke-width="1.3" paint-order="stroke" stroke-linejoin="round">银川</text>
<circle cx="662.5" cy="363.8" r="2.05" fill="#1e50e6"/>
<text x="665.5" y="368.0" font-size="10.8" fill="#141e38" font-weight="bold" stroke="#fff" stroke-opacity="0.75" stroke-width="1.3" paint-order="stroke" stroke-linejoin="round">西安</text>
<circle cx="703.8" cy="265.8" r="2.05" fill="#1e50e6"/>
<text x="706.8" y="270.0" font-size="10.8" fill="#141e38" font-weight="bold" stroke="#fff" stroke-opacity="0.75" stroke-width="1.3" paint-order="stroke" stroke-linejoin="round">呼和浩特</text>
<circle cx="786.3" cy="291.3" r="2.05" fill="#1e50e6"/>
<text x="789.3" y="295.5" font-size="10.8" fill="#141e38" font-weight="bold" stroke="#fff" stroke-opacity="0.75" stroke-width="1.3" paint-order="stroke" stroke-linejoin="round">天津</text>
<circle cx="716.3" cy="310" r="2.05" fill="#1e50e6"/>
<text x="719.3" y="314.2" font-size="10.8" fill="#141e38" font-weight="bold" stroke="#fff" stroke-opacity="0.75" stroke-width="1.3" paint-order="stroke" stroke-linejoin="round">太原</text>
<circle cx="746.3" cy="307.5" r="2.05" fill="#1e50e6"/>
<text x="749.3" y="311.7" font-size="10.8" fill="#141e38" font-weight="bold" stroke="#fff" stroke-opacity="0.75" stroke-width="1.3" paint-order="stroke" stroke-linejoin="round">石家庄</text>
<circle cx="783.3" cy="328" r="2.05" fill="#1e50e6"/>
<text x="786.3" y="332.2" font-size="10.8" fill="#141e38" font-weight="bold" stroke="#fff" stroke-opacity="0.75" stroke-width="1.3" paint-order="stroke" stroke-linejoin="round">济南</text>
<circle cx="733.8" cy="356.3" r="2.05" fill="#1e50e6"/>
<text x="736.8" y="360.5" font-size="10.8" fill="#141e38" font-weight="bold" stroke="#fff" stroke-opacity="0.75" stroke-width="1.3" paint-order="stroke" stroke-linejoin="round">郑州</text>
<circle cx="589.5" cy="417" r="2.05" fill="#1e50e6"/>
<text x="592.5" y="421.2" font-size="10.8" fill="#141e38" font-weight="bold" stroke="#fff" stroke-opacity="0.75" stroke-width="1.3" paint-order="stroke" stroke-linejoin="round">成都</text>
<circle cx="626.3" cy="434.5" r="2.05" fill="#1e50e6"/>
<text x="629.3" y="438.7" font-size="10.8" fill="#141e38" font-weight="bold" stroke="#fff" stroke-opacity="0.75" stroke-width="1.3" paint-order="stroke" stroke-linejoin="round">重庆</text>
<circle cx="742" cy="418.8" r="2.05" fill="#1e50e6"/>
<text x="745" y="423.0" font-size="10.8" fill="#141e38" font-weight="bold" stroke="#fff" stroke-opacity="0.75" stroke-width="1.3" paint-order="stroke" stroke-linejoin="round">武汉</text>
<circle cx="787.5" cy="399.5" r="2.05" fill="#1e50e6"/>
<text x="790.5" y="403.7" font-size="10.8" fill="#141e38" font-weight="bold" stroke="#fff" stroke-opacity="0.75" stroke-width="1.3" paint-order="stroke" stroke-linejoin="round">合肥</text>
<circle cx="849.5" cy="408.8" r="2.05" fill="#1e50e6"/>
<text x="852.5" y="413.0" font-size="10.8" fill="#141e38" font-weight="bold" stroke="#fff" stroke-opacity="0.75" stroke-width="1.3" paint-order="stroke" stroke-linejoin="round">上海</text>
<circle cx="830.5" cy="423" r="2.05" fill="#1e50e6"/>
<text x="833.5" y="427.2" font-size="10.8" fill="#141e38" font-weight="bold" stroke="#fff" stroke-opacity="0.75" stroke-width="1.3" paint-order="stroke" stroke-linejoin="round">杭州</text>
<circle cx="766.3" cy="447" r="2.05" fill="#1e50e6"/>
<text x="769.3" y="451.2" font-size="10.8" fill="#141e38" font-weight="bold" stroke="#fff" stroke-opacity="0.75" stroke-width="1.3" paint-order="stroke" stroke-linejoin="round">南昌</text>
<circle cx="723" cy="454.3" r="2.05" fill="#1e50e6"/>
<text x="726" y="458.5" font-size="10.8" fill="#141e38" font-weight="bold" stroke="#fff" stroke-opacity="0.75" stroke-width="1.3" paint-order="stroke" stroke-linejoin="round">长沙</text>
<circle cx="817.5" cy="486.3" r="2.05" fill="#1e50e6"/>
<text x="820.5" y="490.5" font-size="10.8" fill="#141e38" font-weight="bold" stroke="#fff" stroke-opacity="0.75" stroke-width="1.3" paint-order="stroke" stroke-linejoin="round">福州</text>
<circle cx="850" cy="501.3" r="2.05" fill="#1e50e6"/>
<text x="853" y="505.5" font-size="10.8" fill="#141e38" font-weight="bold" stroke="#fff" stroke-opacity="0.75" stroke-width="1.3" paint-order="stroke" stroke-linejoin="round">台北</text>
<circle cx="727.5" cy="529.5" r="2.05" fill="#1e50e6"/>
<text x="730.5" y="533.7" font-size="10.8" fill="#141e38" font-weight="bold" stroke="#fff" stroke-opacity="0.75" stroke-width="1.3" paint-order="stroke" stroke-linejoin="round">广州</text>
<circle cx="741.3" cy="542" r="2.05" fill="#1e50e6"/>
<text x="744.3" y="546.2" font-size="10.8" fill="#141e38" font-weight="bold" stroke="#fff" stroke-opacity="0.75" stroke-width="1.3" paint-order="stroke" stroke-linejoin="round">香港</text>
<circle cx="653" cy="535" r="2.05" fill="#1e50e6"/>
<text x="656" y="539.2" font-size="10.8" fill="#141e38" font-weight="bold" stroke="#fff" stroke-opacity="0.75" stroke-width="1.3" paint-order="stroke" stroke-linejoin="round">南宁</text>
<circle cx="683.8" cy="576.3" r="2.05" fill="#1e50e6"/>
<text x="686.8" y="580.5" font-size="10.8" fill="#141e38" font-weight="bold" stroke="#fff" stroke-opacity="0.75" stroke-width="1.3" paint-order="stroke" stroke-linejoin="round">海口</text>
<circle cx="629.3" cy="478.8" r="2.05" fill="#1e50e6"/>
<text x="632.3" y="483.0" font-size="10.8" fill="#141e38" font-weight="bold" stroke="#fff" stroke-opacity="0.75" stroke-width="1.3" paint-order="stroke" stroke-linejoin="round">贵阳</text>
<circle cx="569.5" cy="500.8" r="2.05" fill="#1e50e6"/>
<text x="572.5" y="505.0" font-size="10.8" fill="#141e38" font-weight="bold" stroke="#fff" stroke-opacity="0.75" stroke-width="1.3" paint-order="stroke" stroke-linejoin="round">昆明</text>
<circle cx="878.8" cy="251.3" r="2.05" fill="#1e50e6"/>
<text x="881.8" y="255.5" font-size="10.8" fill="#141e38" font-weight="bold" stroke="#fff" stroke-opacity="0.75" stroke-width="1.3" paint-order="stroke" stroke-linejoin="round">沈阳</text>
<circle cx="907.5" cy="220" r="2.05" fill="#1e50e6"/>
<text x="910.5" y="224.2" font-size="10.8" fill="#141e38" font-weight="bold" stroke="#fff" stroke-opacity="0.75" stroke-width="1.3" paint-order="stroke" stroke-linejoin="round">长春</text>
<circle cx="927.5" cy="192.5" r="2.05" fill="#1e50e6"/>
<text x="930.5" y="196.7" font-size="10.8" fill="#141e38" font-weight="bold" stroke="#fff" stroke-width="1.6" paint-order="stroke">哈尔滨</text>
<circle cx="809.3" cy="397" r="2.05" fill="#1e50e6"/>
<text x="812.3" y="401.2" font-size="10.8" fill="#141e38" font-weight="bold" stroke="#fff" stroke-opacity="0.75" stroke-width="1.3" paint-order="stroke" stroke-linejoin="round"></text>
<circle cx="731.3" cy="543" r="2.05" fill="#1e50e6"/>
<text x="734.3" y="547.2" font-size="10.8" fill="#141e38" font-weight="bold" stroke="#fff" stroke-opacity="0.75" stroke-width="1.3" paint-order="stroke" stroke-linejoin="round"></text>
<circle cx="774.3" cy="279.5" r="2.05" fill="#1e50e6"/>
<text x="758.3" y="271.5" font-size="16.5" fill="#7a7aff" font-weight="bold" stroke="#fff" stroke-width="2" paint-order="stroke" font-weight="normal">北京</text>
</g>
</svg>
<div class="lg" style="left:123px;top:471px;">低</div>
<div class="lg" style="left:174px;top:471px;">中</div>
<div class="lg" style="left:225px;top:471px;">高</div>
<div class="bar" style="top:493px;height:18px;background:linear-gradient(to right,#9cff00 0%,#fff700 20%,#ff9c00 50%,#ff3000 80%,#f50000 100%);filter:blur(0.5px);"></div>
<div class="bar" style="top:519px;height:19px;left:120px;width:122px;background:#dedede;border:1px solid #c8c8c8;box-sizing:border-box;filter:blur(0.5px);"></div>
<div class="lg" style="left:255px;top:497px;font-size:16px;">拥堵程度</div>
<div class="lg" style="left:255px;top:523px;font-size:16px;">暂无数据</div>
<svg width="170" height="58" viewBox="0 590 170 58" style="position:absolute;left:0;top:590px;filter:blur(0.5px)">
<defs><clipPath id="lgc"><rect x="-12" y="597" width="60" height="60" rx="9"/></clipPath></defs>
<g clip-path="url(#lgc)">
<rect x="-12" y="597" width="60" height="60" fill="#eef1ee"/>
<rect x="-12" y="597" width="22" height="22" fill="#dfeedd"/>
<rect x="17" y="597" width="31" height="14" fill="#e6eff2"/>
<rect x="10" y="597" width="7" height="60" fill="#fdebc6"/>
<rect x="-12" y="640" width="60" height="5" fill="#fdf0d4"/>
<rect x="30" y="620" width="18" height="30" fill="#e4ecf6"/>
</g>
<polygon points="45.5,605.8 5.4,624.6 16.5,633.6 18,640.5 23.5,636.5 37.5,643.8" fill="#1d9bf0"/>
<polygon points="45.5,605.8 16.5,633.6 18,640.5 23.5,636.5" fill="#0c7ed0"/>
<polygon points="45.5,605.8 16.5,633.6 20.5,634.2" fill="#1d9bf0"/>
<text x="57" y="626" font-size="22.5" font-weight="900" fill="#1e1e1e" textLength="95" lengthAdjust="spacingAndGlyphs">高德地图</text>
<text x="57" y="641.3" font-size="18.5" font-weight="bold" font-style="italic" fill="#1e1e1e" textLength="95" lengthAdjust="spacingAndGlyphs">amap.com</text>
</svg>
</body>
</html>
